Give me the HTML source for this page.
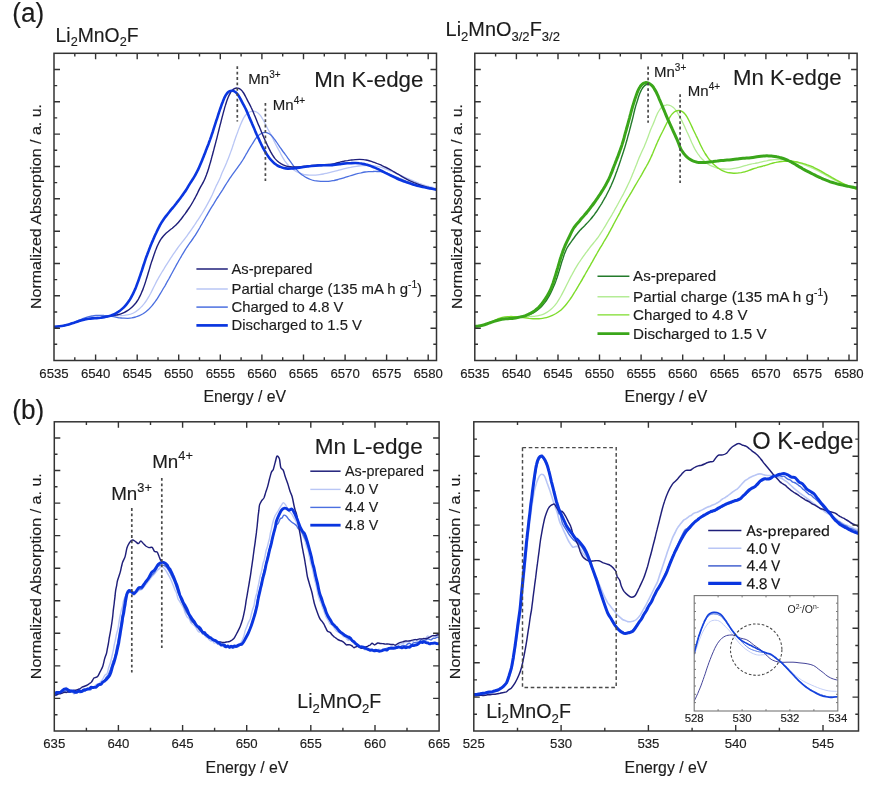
<!DOCTYPE html>
<html lang="en"><head><meta charset="utf-8"><title>XAS figure</title>
<style>
html,body{margin:0;padding:0;background:#fff;}
body{width:893px;height:787px;overflow:hidden;}
svg{display:block;font-family:"Liberation Sans", sans-serif;}
text{stroke-linejoin:round;}
</style></head>
<body>
<svg width="893" height="787" viewBox="0 0 893 787">
<rect width="893" height="787" fill="#fff"/>
<defs><clipPath id="cA"><rect x="54" y="53.3" width="382.5" height="307.2"/></clipPath><clipPath id="cB"><rect x="474.8" y="53.3" width="382.3" height="307.2"/></clipPath><clipPath id="cC"><rect x="54.3" y="421.8" width="384.8" height="309.2"/></clipPath><clipPath id="cD"><rect x="473.8" y="421.8" width="384.7" height="309.2"/></clipPath><clipPath id="cI"><rect x="694.2" y="595.6" width="143.6" height="115.4"/></clipPath></defs>
<g clip-path="url(#cA)">
<path d="M53.8 326.8C54.4 326.7 56.4 326.6 57.8 326.5C59.1 326.4 60.4 326.2 61.7 326C63 325.8 64.3 325.5 65.6 325.2C66.9 324.9 68.2 324.5 69.5 324.2C70.8 323.8 72 323.4 73.3 323C74.6 322.6 75.8 322.1 77.1 321.7C78.4 321.3 79.6 320.8 80.9 320.5C82.2 320.1 83.5 319.7 84.8 319.4C86.1 319.1 87.4 318.9 88.7 318.6C90 318.4 91.3 318.2 92.6 318C94 317.8 95.3 317.7 96.6 317.5C97.9 317.4 99.3 317.2 100.6 317.1C101.9 317 103.2 316.8 104.6 316.7C105.9 316.6 107.2 316.5 108.6 316.3C109.9 316.2 111.2 316.2 112.5 316.1C113.9 316 115.2 315.9 116.5 315.8C117.9 315.7 119.2 315.7 120.5 315.6C121.9 315.5 123.2 315.4 124.5 315.3C125.9 315.1 127.2 315 128.5 314.7C129.8 314.4 131.1 314 132.3 313.5C133.5 313 134.6 312.3 135.8 311.6C136.9 310.9 137.9 310.1 138.9 309.2C140 308.3 140.9 307.4 141.8 306.4C142.8 305.5 143.6 304.4 144.4 303.4C145.2 302.3 146 301.2 146.7 300.1C147.4 299 148.1 297.8 148.8 296.7C149.4 295.5 150.1 294.3 150.7 293.2C151.3 292 151.9 290.8 152.5 289.6C153.1 288.4 153.7 287.2 154.3 286C154.9 284.8 155.5 283.6 156.1 282.4C156.7 281.2 157.3 280.1 158 278.9C158.6 277.8 159.3 276.6 160 275.4C160.6 274.3 161.3 273.1 162 272C162.7 270.9 163.4 269.7 164.1 268.6C164.8 267.4 165.5 266.3 166.2 265.2C166.9 264 167.6 262.9 168.3 261.8C169.1 260.7 169.8 259.5 170.5 258.4C171.3 257.3 172 256.2 172.7 255.1C173.5 254 174.2 252.9 175 251.8C175.8 250.7 176.5 249.6 177.3 248.5C178.1 247.4 178.8 246.4 179.6 245.3C180.5 244.2 181.3 243.2 182.1 242.1C182.9 241.1 183.8 240 184.6 239C185.4 237.9 186.2 236.9 187 235.8C187.8 234.7 188.5 233.6 189.3 232.5C190.1 231.5 190.9 230.4 191.6 229.3C192.4 228.2 193.1 227.1 193.9 226C194.6 224.9 195.4 223.8 196.1 222.6C196.8 221.5 197.6 220.4 198.3 219.3C199 218.2 199.8 217.1 200.5 215.9C201.2 214.8 201.9 213.7 202.6 212.5C203.3 211.4 204 210.3 204.6 209.1C205.3 208 206 206.8 206.6 205.6C207.3 204.5 207.9 203.3 208.5 202.1C209.2 201 209.8 199.8 210.4 198.6C211 197.4 211.6 196.2 212.2 195C212.7 193.8 213.3 192.6 213.8 191.3C214.3 190.1 214.8 188.9 215.4 187.7C216 186.5 216.5 185.2 217.1 184.1C217.7 182.9 218.4 181.7 218.9 180.5C219.5 179.3 220 178.1 220.5 176.9C221 175.6 221.5 174.4 222 173.1C222.5 171.9 223.1 170.7 223.6 169.5C224.2 168.3 224.8 167.1 225.3 165.8C225.8 164.6 226.3 163.4 226.8 162.2C227.3 160.9 227.8 159.7 228.3 158.4C228.8 157.2 229.3 155.9 229.7 154.7C230.2 153.5 230.7 152.2 231.1 150.9C231.6 149.7 232 148.4 232.4 147.2C232.8 145.9 233.2 144.6 233.7 143.4C234.1 142.1 234.5 140.8 235 139.6C235.4 138.3 235.8 137.1 236.3 135.8C236.8 134.6 237.2 133.3 237.7 132C238.1 130.8 238.6 129.6 239.1 128.3C239.6 127.1 240.1 125.8 240.6 124.6C241.1 123.4 241.6 122.1 242.2 120.9C242.8 119.7 243.3 118.5 244 117.4C244.7 116.3 245.5 115.1 246.4 114.2C247.4 113.3 248.5 112.5 249.6 112C250.8 111.5 252.1 111.2 253.4 111.2C254.6 111.3 255.9 111.6 257 112.3C258.1 112.9 259 113.9 259.9 114.9C260.8 115.9 261.5 117 262.1 118.2C262.8 119.3 263.4 120.5 264.1 121.7C264.7 122.9 265.3 124.1 265.9 125.3C266.5 126.4 267.1 127.6 267.7 128.8C268.4 130 269 131.1 269.7 132.3C270.3 133.5 270.9 134.7 271.5 135.9C272.1 137 272.7 138.2 273.3 139.4C273.9 140.6 274.4 141.8 275 143C275.6 144.2 276.2 145.4 276.9 146.6C277.5 147.8 278.2 148.9 278.8 150.1C279.5 151.2 280 152.4 280.6 153.6C281.3 154.8 281.8 156 282.5 157.2C283.2 158.3 283.9 159.5 284.6 160.6C285.4 161.7 286.2 162.7 287 163.8C287.9 164.8 288.8 165.8 289.7 166.7C290.7 167.6 291.7 168.5 292.8 169.3C293.8 170.1 295 170.8 296.1 171.5C297.3 172.1 298.5 172.7 299.8 173.1C301 173.6 302.3 174 303.6 174.4C304.9 174.7 306.2 174.9 307.5 175C308.8 175.1 310.2 175.2 311.5 175.2C312.8 175.2 314.2 175.2 315.5 175.1C316.8 175 318.1 174.9 319.5 174.7C320.8 174.5 322.1 174.3 323.4 174C324.7 173.8 326 173.4 327.3 173.1C328.6 172.8 329.9 172.5 331.2 172.2C332.5 171.9 333.8 171.5 335.1 171.2C336.4 170.9 337.7 170.6 338.9 170.2C340.2 169.9 341.5 169.6 342.8 169.2C344.1 168.9 345.4 168.5 346.7 168.2C348 167.9 349.3 167.6 350.6 167.4C351.9 167.1 353.2 166.8 354.5 166.6C355.8 166.4 357.2 166.2 358.5 166C359.8 165.9 361.1 165.8 362.5 165.7C363.8 165.6 365.1 165.5 366.5 165.5C367.8 165.5 369.1 165.5 370.5 165.5C371.8 165.6 373.1 165.7 374.4 165.9C375.8 166.1 377.1 166.4 378.4 166.7C379.7 167 380.9 167.3 382.2 167.7C383.5 168.1 384.7 168.6 386 169.1C387.2 169.6 388.5 170.1 389.7 170.6C390.9 171.1 392.1 171.7 393.4 172.2C394.6 172.7 395.8 173.3 397 173.8C398.3 174.3 399.5 174.9 400.7 175.4C401.9 176 403.1 176.5 404.4 177C405.6 177.6 406.8 178.1 408 178.6C409.2 179.2 410.5 179.7 411.7 180.2C412.9 180.7 414.1 181.3 415.4 181.8C416.6 182.3 417.8 182.8 419.1 183.3C420.3 183.7 421.6 184.2 422.8 184.6C424.1 185 425.4 185.4 426.6 185.8C427.9 186.2 429.2 186.6 430.5 187C431.7 187.3 433.3 187.7 434.2 188C435.1 188.2 435.7 188.3 436 188.4" stroke="#b9c6f5" stroke-width="1.3" fill="none" stroke-linejoin="round"/>
<path d="M53.8 326.8C54.4 326.7 56.4 326.6 57.8 326.5C59.1 326.4 60.4 326.2 61.7 326C63 325.8 64.3 325.5 65.6 325.1C66.9 324.8 68.2 324.4 69.4 324C70.7 323.5 72 323.1 73.2 322.6C74.5 322.1 75.7 321.6 76.9 321.1C78.2 320.6 79.4 320.1 80.6 319.6C81.9 319.1 83.1 318.5 84.3 318.1C85.6 317.7 86.9 317.2 88.1 316.9C89.4 316.6 90.7 316.3 92 316C93.4 315.8 94.7 315.7 96 315.5C97.3 315.4 98.7 315.3 100 315.3C101.3 315.3 102.7 315.4 104 315.5C105.3 315.5 106.7 315.7 108 315.8C109.3 316 110.6 316.2 111.9 316.4C113.3 316.6 114.6 316.9 115.9 317.2C117.2 317.4 118.5 317.7 119.8 317.9C121.1 318 122.4 318.2 123.8 318.2C125.1 318.3 126.4 318.3 127.8 318.3C129.1 318.2 130.4 318.1 131.7 317.9C133.1 317.6 134.4 317.3 135.6 317C136.9 316.6 138.2 316.1 139.4 315.6C140.6 315.1 141.8 314.5 143 313.8C144.1 313.1 145.2 312.3 146.2 311.5C147.2 310.7 148.2 309.7 149.2 308.8C150.1 307.9 151 306.9 151.9 305.9C152.8 304.9 153.6 303.8 154.4 302.7C155.2 301.7 155.9 300.6 156.7 299.5C157.4 298.4 158.1 297.2 158.8 296.1C159.5 295 160.2 293.8 160.9 292.7C161.6 291.5 162.3 290.4 162.9 289.2C163.6 288.1 164.3 286.9 165 285.8C165.6 284.6 166.3 283.4 166.9 282.3C167.6 281.1 168.2 279.9 168.9 278.8C169.5 277.6 170.2 276.4 170.8 275.3C171.5 274.1 172.1 272.9 172.7 271.8C173.4 270.6 174 269.4 174.7 268.2C175.3 267.1 175.9 265.9 176.6 264.7C177.2 263.6 177.9 262.4 178.5 261.2C179.2 260.1 179.9 258.9 180.5 257.8C181.2 256.6 181.9 255.5 182.5 254.3C183.2 253.2 183.9 252 184.6 250.9C185.3 249.8 186 248.6 186.7 247.5C187.5 246.4 188.2 245.3 189 244.2C189.7 243.1 190.5 242 191.3 241C192.1 239.9 192.9 238.8 193.6 237.7C194.3 236.6 195.1 235.5 195.8 234.3C196.5 233.2 197.2 232.1 197.9 230.9C198.5 229.8 199.2 228.6 199.9 227.5C200.5 226.3 201.2 225.1 201.9 224C202.5 222.8 203.2 221.7 203.8 220.5C204.5 219.4 205.2 218.2 205.8 217C206.5 215.9 207.2 214.7 207.8 213.6C208.5 212.4 209.2 211.3 209.8 210.1C210.5 209 211.2 207.8 211.9 206.7C212.6 205.5 213.3 204.4 214 203.3C214.7 202.1 215.4 201 216.1 199.9C216.8 198.8 217.5 197.6 218.3 196.5C219 195.4 219.7 194.3 220.4 193.2C221.1 192 221.9 190.9 222.6 189.8C223.3 188.6 224 187.5 224.7 186.4C225.4 185.3 226.1 184.1 226.8 183C227.5 181.9 228.3 180.7 229 179.6C229.7 178.5 230.5 177.4 231.2 176.3C232 175.2 232.8 174.1 233.5 173.1C234.3 172 235.1 170.9 235.9 169.8C236.7 168.7 237.5 167.7 238.2 166.6C239 165.5 239.8 164.4 240.6 163.3C241.3 162.2 242.1 161.1 242.8 160C243.5 158.9 244.2 157.7 244.8 156.6C245.5 155.4 246.1 154.2 246.8 153.1C247.5 151.9 248.1 150.8 248.8 149.6C249.5 148.5 250.2 147.3 250.9 146.2C251.6 145.1 252.3 143.9 253 142.8C253.7 141.7 254.4 140.5 255.1 139.4C255.9 138.3 256.7 137.2 257.6 136.3C258.5 135.4 259.5 134.4 260.7 133.8C261.8 133.2 263.1 132.6 264.3 132.5C265.5 132.4 266.9 132.6 268 133.1C269.2 133.5 270.2 134.5 271.2 135.3C272.1 136.2 273 137.3 273.8 138.4C274.6 139.4 275.4 140.5 276.2 141.6C277 142.7 277.7 143.8 278.4 144.9C279.2 146 279.9 147.1 280.7 148.2C281.4 149.3 282.2 150.4 283 151.5C283.8 152.5 284.6 153.6 285.4 154.7C286.2 155.7 287 156.8 287.7 157.9C288.5 159 289.3 160.1 290.1 161.2C290.8 162.3 291.6 163.4 292.4 164.4C293.2 165.5 294 166.6 294.8 167.6C295.7 168.6 296.5 169.6 297.5 170.6C298.4 171.6 299.3 172.5 300.3 173.4C301.3 174.3 302.4 175.1 303.5 175.8C304.6 176.6 305.7 177.3 306.9 177.9C308.1 178.5 309.3 179.1 310.6 179.5C311.8 179.9 313.1 180.3 314.4 180.6C315.7 180.8 317 181 318.3 181.2C319.7 181.3 321 181.4 322.3 181.4C323.7 181.5 325 181.5 326.3 181.4C327.7 181.4 329 181.3 330.3 181.1C331.6 181 332.9 180.7 334.2 180.5C335.5 180.2 336.8 179.8 338.1 179.5C339.4 179.1 340.7 178.8 342 178.4C343.3 178 344.5 177.6 345.8 177.2C347.1 176.8 348.3 176.4 349.6 176C350.9 175.6 352.2 175.2 353.4 174.8C354.7 174.4 356 174 357.3 173.7C358.6 173.3 359.9 173 361.2 172.8C362.5 172.5 363.8 172.2 365.1 172C366.4 171.8 367.8 171.7 369.1 171.6C370.4 171.5 371.8 171.5 373.1 171.5C374.4 171.4 375.8 171.4 377.1 171.5C378.4 171.5 379.7 171.5 381.1 171.7C382.4 171.8 383.7 172.1 385 172.5C386.2 172.8 387.5 173.3 388.8 173.8C390 174.2 391.2 174.7 392.5 175.3C393.7 175.8 394.9 176.3 396.1 176.9C397.4 177.4 398.6 178 399.8 178.5C401 179 402.2 179.6 403.5 180.1C404.7 180.6 405.9 181.1 407.2 181.6C408.4 182.1 409.6 182.6 410.9 183.1C412.1 183.5 413.4 184 414.7 184.4C415.9 184.8 417.2 185.2 418.5 185.6C419.7 186 421 186.4 422.3 186.7C423.6 187.1 424.9 187.4 426.2 187.7C427.5 188 428.8 188.3 430.1 188.5C431.4 188.8 433 189.1 434 189.3C435 189.5 435.7 189.6 436 189.6" stroke="#4b6fe0" stroke-width="1.3" fill="none" stroke-linejoin="round"/>
<path d="M53.8 326.8C54.4 326.7 56.4 326.6 57.8 326.5C59.1 326.4 60.4 326.2 61.7 326C63 325.8 64.3 325.5 65.6 325.2C66.9 324.9 68.2 324.5 69.5 324.2C70.8 323.8 72 323.4 73.3 323C74.6 322.6 75.8 322.1 77.1 321.7C78.4 321.3 79.6 320.8 80.9 320.4C82.2 320.1 83.5 319.7 84.8 319.4C86.1 319.2 87.4 319 88.7 318.8C90 318.6 91.4 318.5 92.7 318.4C94 318.3 95.4 318.2 96.7 318.1C98 317.9 99.3 317.8 100.7 317.7C102 317.5 103.3 317.3 104.6 317.1C105.9 316.8 107.2 316.6 108.5 316.3C109.9 316.1 111.2 315.8 112.5 315.6C113.8 315.4 115.1 315.2 116.4 315C117.7 314.7 119.1 314.5 120.3 314.1C121.6 313.7 122.8 313.2 124 312.6C125.2 312.1 126.4 311.4 127.5 310.7C128.6 310 129.7 309.2 130.7 308.3C131.7 307.4 132.7 306.5 133.6 305.5C134.5 304.6 135.4 303.5 136.2 302.5C136.9 301.4 137.7 300.3 138.4 299.1C139 298 139.6 296.8 140.2 295.6C140.8 294.4 141.3 293.2 141.8 291.9C142.4 290.7 142.9 289.5 143.3 288.2C143.8 287 144.3 285.7 144.7 284.4C145.1 283.2 145.5 281.9 145.9 280.6C146.3 279.4 146.7 278.1 147.1 276.8C147.5 275.5 147.9 274.3 148.2 273C148.6 271.7 149 270.4 149.4 269.1C149.8 267.9 150.1 266.6 150.5 265.3C150.9 264 151.3 262.8 151.7 261.5C152.2 260.2 152.6 259 153 257.7C153.5 256.4 153.9 255.1 154.3 253.9C154.8 252.6 155.2 251.3 155.7 250.1C156.2 248.8 156.7 247.6 157.2 246.3C157.7 245.1 158.3 243.9 158.9 242.7C159.5 241.6 160.1 240.4 160.8 239.3C161.6 238.2 162.4 237.2 163.2 236.2C164.1 235.2 165.1 234.2 166 233.3C167 232.4 168.1 231.6 169.1 230.8C170.2 229.9 171.2 229.1 172.3 228.3C173.3 227.4 174.3 226.5 175.3 225.6C176.2 224.7 177.2 223.8 178.1 222.8C179 221.8 179.8 220.8 180.6 219.7C181.4 218.7 182.2 217.6 183 216.5C183.8 215.4 184.6 214.4 185.4 213.3C186.2 212.2 187 211.1 187.7 210C188.5 208.9 189.3 207.8 190 206.7C190.7 205.6 191.4 204.5 192 203.3C192.7 202.2 193.4 201 194 199.8C194.6 198.6 195.3 197.5 195.9 196.3C196.5 195.1 197.1 193.9 197.7 192.7C198.3 191.5 198.8 190.3 199.4 189.1C200 187.9 200.7 186.7 201.3 185.6C202 184.4 202.7 183.3 203.3 182.2C204 181 204.5 179.8 205 178.6C205.6 177.3 206 176.1 206.5 174.8C206.9 173.6 207.4 172.3 207.8 171C208.2 169.8 208.6 168.5 209 167.2C209.4 165.9 209.7 164.7 210.1 163.4C210.5 162.1 210.8 160.8 211.2 159.5C211.5 158.2 211.9 157 212.2 155.7C212.6 154.4 212.9 153.1 213.3 151.8C213.6 150.5 214 149.2 214.3 147.9C214.6 146.6 215 145.4 215.3 144.1C215.7 142.8 216 141.5 216.3 140.2C216.7 138.9 217 137.6 217.3 136.3C217.6 135 218 133.7 218.3 132.4C218.6 131.1 218.9 129.9 219.2 128.6C219.6 127.3 219.9 126 220.2 124.7C220.6 123.4 220.9 122.1 221.2 120.8C221.6 119.5 221.9 118.2 222.2 116.9C222.6 115.6 222.9 114.4 223.2 113.1C223.6 111.8 223.9 110.5 224.3 109.2C224.6 107.9 225 106.6 225.4 105.4C225.8 104.1 226.2 102.8 226.6 101.5C227 100.3 227.5 99 228 97.8C228.5 96.6 229 95.3 229.7 94.2C230.3 93 230.9 91.7 231.8 90.8C232.6 89.8 233.6 88.9 234.7 88.5C235.8 88 237.2 87.9 238.4 88.3C239.5 88.6 240.6 89.5 241.5 90.3C242.4 91.2 243.1 92.4 243.9 93.5C244.6 94.6 245.2 95.8 245.8 97C246.4 98.2 247 99.4 247.6 100.6C248.2 101.8 248.9 102.9 249.5 104.1C250.1 105.3 250.8 106.5 251.3 107.7C251.9 108.9 252.4 110.1 252.9 111.3C253.4 112.6 253.9 113.8 254.4 115C255 116.3 255.5 117.5 256 118.7C256.5 120 257 121.2 257.5 122.4C258 123.7 258.5 124.9 259.1 126.1C259.6 127.3 260.1 128.6 260.6 129.8C261.1 131 261.6 132.3 262.1 133.5C262.6 134.7 263.2 136 263.7 137.2C264.2 138.4 264.8 139.6 265.3 140.8C265.9 142 266.4 143.3 267 144.5C267.6 145.7 268.2 146.9 268.8 148.1C269.4 149.3 270 150.5 270.6 151.6C271.3 152.8 271.9 154.1 272.6 155.2C273.3 156.3 274 157.4 274.8 158.4C275.7 159.4 276.6 160.4 277.6 161.2C278.6 162.1 279.7 162.9 280.9 163.6C282 164.2 283.2 164.9 284.4 165.3C285.7 165.8 287 166.2 288.3 166.5C289.6 166.7 290.9 166.9 292.2 167C293.5 167 294.9 167 296.2 167C297.5 166.9 298.9 166.8 300.2 166.7C301.5 166.6 302.9 166.5 304.2 166.3C305.5 166.2 306.8 166.1 308.2 165.9C309.5 165.8 310.8 165.7 312.1 165.5C313.5 165.4 314.8 165.3 316.1 165.2C317.5 165.1 318.8 164.9 320.1 164.9C321.5 164.8 322.8 164.7 324.1 164.6C325.4 164.6 326.8 164.6 328.1 164.5C329.4 164.5 330.8 164.4 332.1 164.2C333.4 164 334.6 163.6 335.9 163.2C337.2 162.9 338.5 162.5 339.8 162.2C341.1 161.8 342.4 161.5 343.7 161.3C345 161 346.3 160.8 347.7 160.6C349 160.3 350.3 160.2 351.6 160C352.9 159.8 354.3 159.7 355.6 159.6C356.9 159.5 358.3 159.4 359.6 159.4C360.9 159.4 362.3 159.5 363.6 159.6C364.9 159.7 366.2 160 367.5 160.2C368.8 160.5 370.1 160.9 371.4 161.3C372.6 161.7 373.9 162.2 375.1 162.7C376.4 163.2 377.6 163.6 378.8 164.2C380.1 164.7 381.3 165.2 382.5 165.8C383.7 166.3 384.9 166.9 386.1 167.5C387.3 168.1 388.5 168.7 389.7 169.3C390.8 170 392 170.6 393.2 171.3C394.3 171.9 395.5 172.6 396.6 173.3C397.8 174 398.9 174.7 400.1 175.3C401.2 176 402.3 176.7 403.5 177.4C404.7 178 405.8 178.7 407 179.3C408.2 179.9 409.4 180.5 410.6 181.1C411.8 181.6 413 182.2 414.2 182.7C415.5 183.2 416.7 183.7 418 184.2C419.2 184.7 420.5 185.1 421.7 185.5C423 185.9 424.3 186.3 425.6 186.7C426.8 187.1 428.1 187.4 429.4 187.7C430.7 188.1 432.1 188.4 433.2 188.7C434.3 188.9 435.5 189.2 436 189.3" stroke="#1f1f7a" stroke-width="1.4" fill="none" stroke-linejoin="round"/>
<path d="M53.8 326.8C54.4 326.7 56.4 326.6 57.8 326.5C59.1 326.4 60.4 326.2 61.7 326C63 325.8 64.3 325.5 65.6 325.2C66.9 324.9 68.2 324.5 69.5 324.2C70.8 323.8 72 323.4 73.3 323C74.6 322.6 75.8 322.1 77.1 321.7C78.4 321.3 79.6 320.8 80.9 320.4C82.2 320.1 83.5 319.7 84.8 319.4C86.1 319.2 87.4 319 88.7 318.8C90 318.6 91.4 318.5 92.7 318.4C94 318.3 95.4 318.2 96.7 318.1C98 317.9 99.3 317.8 100.7 317.7C102 317.5 103.3 317.3 104.6 317.1C105.9 316.8 107.2 316.6 108.5 316.2C109.8 315.9 111.1 315.5 112.3 315C113.6 314.5 114.8 314 115.9 313.3C117.1 312.7 118.2 311.9 119.3 311.2C120.4 310.4 121.4 309.5 122.4 308.6C123.4 307.7 124.3 306.8 125.2 305.8C126.1 304.8 126.9 303.8 127.7 302.7C128.5 301.6 129.3 300.5 130 299.4C130.7 298.2 131.3 297.1 131.9 295.9C132.6 294.7 133.2 293.5 133.7 292.3C134.3 291.1 134.8 289.9 135.4 288.7C135.9 287.4 136.4 286.2 136.8 284.9C137.3 283.7 137.8 282.4 138.2 281.2C138.7 279.9 139.1 278.7 139.5 277.4C140 276.1 140.4 274.9 140.8 273.6C141.2 272.4 141.7 271.1 142.1 269.8C142.5 268.6 142.9 267.3 143.3 266C143.7 264.8 144.2 263.5 144.6 262.2C145 261 145.4 259.7 145.8 258.4C146.3 257.2 146.7 255.9 147.2 254.7C147.6 253.4 148.1 252.1 148.6 250.9C149 249.7 149.5 248.4 150 247.2C150.5 245.9 151 244.7 151.5 243.5C152 242.2 152.5 241 153.1 239.8C153.6 238.6 154.2 237.3 154.7 236.1C155.3 234.9 155.8 233.7 156.4 232.5C156.9 231.3 157.5 230.1 158.1 228.9C158.7 227.7 159.3 226.5 159.9 225.3C160.6 224.2 161.2 223 161.9 221.9C162.7 220.8 163.4 219.7 164.2 218.6C165 217.5 165.8 216.4 166.6 215.4C167.4 214.3 168.2 213.3 169.1 212.2C169.9 211.2 170.8 210.2 171.6 209.1C172.5 208.1 173.3 207.1 174.2 206.1C175 205 175.8 204 176.6 202.9C177.5 201.9 178.3 200.8 179.1 199.7C179.9 198.7 180.7 197.6 181.5 196.5C182.3 195.5 183.1 194.4 183.8 193.3C184.6 192.2 185.4 191.1 186.1 190C186.8 188.9 187.5 187.7 188.1 186.6C188.8 185.4 189.5 184.3 190.2 183.1C190.9 182 191.7 180.9 192.4 179.8C193.1 178.7 193.8 177.6 194.5 176.4C195.2 175.3 195.8 174.1 196.4 172.9C197.1 171.7 197.6 170.5 198.2 169.3C198.8 168.1 199.3 166.9 199.8 165.7C200.4 164.4 200.9 163.2 201.4 162C201.9 160.8 202.4 159.5 202.9 158.3C203.4 157.1 203.9 155.8 204.4 154.6C204.9 153.3 205.4 152.1 205.8 150.8C206.3 149.6 206.8 148.3 207.3 147.1C207.7 145.9 208.2 144.6 208.7 143.4C209.2 142.1 209.6 140.9 210.1 139.6C210.5 138.4 211 137.1 211.4 135.8C211.8 134.6 212.2 133.3 212.7 132C213.1 130.8 213.5 129.5 213.9 128.2C214.3 127 214.7 125.7 215.1 124.4C215.5 123.2 215.9 121.9 216.3 120.6C216.8 119.4 217.2 118.1 217.6 116.8C218 115.5 218.4 114.3 218.8 113C219.2 111.7 219.7 110.5 220.1 109.2C220.5 108 221 106.7 221.4 105.4C221.9 104.2 222.3 102.9 222.8 101.7C223.3 100.4 223.8 99.2 224.3 98C224.9 96.8 225.5 95.5 226.2 94.5C226.9 93.4 227.8 92.2 228.8 91.6C229.8 91 231.1 90.6 232.3 90.7C233.4 90.8 234.7 91.5 235.7 92.2C236.7 93 237.5 94.1 238.3 95.2C239 96.3 239.6 97.5 240.3 98.6C240.9 99.8 241.5 101 242.1 102.2C242.7 103.4 243.4 104.6 244 105.7C244.6 106.9 245.3 108.1 245.9 109.3C246.5 110.5 247 111.7 247.5 112.9C248 114.1 248.5 115.4 249 116.6C249.6 117.8 250.1 119.1 250.6 120.3C251.1 121.5 251.7 122.7 252.2 124C252.7 125.2 253.2 126.4 253.8 127.6C254.3 128.9 254.8 130.1 255.3 131.3C255.9 132.5 256.4 133.8 256.9 135C257.5 136.2 258 137.4 258.6 138.6C259.1 139.8 259.7 141 260.3 142.3C260.8 143.5 261.4 144.7 262 145.9C262.6 147 263.2 148.2 263.9 149.4C264.5 150.6 265.2 151.7 265.9 152.8C266.6 154 267.3 155.1 268.1 156.2C268.9 157.3 269.7 158.4 270.5 159.4C271.4 160.4 272.3 161.4 273.3 162.3C274.2 163.2 275.3 164 276.4 164.8C277.5 165.5 278.7 166.2 279.9 166.7C281.1 167.3 282.3 167.7 283.6 168C284.9 168.3 286.2 168.5 287.6 168.6C288.9 168.7 290.2 168.6 291.5 168.5C292.9 168.4 294.2 168.3 295.5 168.1C296.9 168 298.2 167.8 299.5 167.6C300.8 167.4 302.1 167.2 303.5 167C304.8 166.8 306.1 166.6 307.4 166.4C308.7 166.3 310.1 166.1 311.4 166C312.7 165.9 314 165.8 315.4 165.7C316.7 165.6 318 165.5 319.4 165.4C320.7 165.4 322 165.3 323.4 165.3C324.7 165.2 326 165.2 327.4 165.2C328.7 165.2 330 165.2 331.4 165.1C332.7 165 334 164.8 335.3 164.7C336.7 164.5 338 164.3 339.3 164.1C340.6 163.9 341.9 163.8 343.3 163.6C344.6 163.5 345.9 163.4 347.3 163.3C348.6 163.2 349.9 163.1 351.3 163.1C352.6 163 353.9 163 355.3 163C356.6 163 357.9 163.1 359.2 163.3C360.6 163.4 361.9 163.6 363.2 163.9C364.5 164.1 365.8 164.5 367.1 164.8C368.3 165.2 369.6 165.7 370.9 166.1C372.1 166.6 373.3 167.1 374.6 167.6C375.8 168.1 377 168.7 378.2 169.2C379.4 169.8 380.6 170.4 381.8 171C383 171.6 384.2 172.2 385.4 172.8C386.6 173.4 387.8 174 389 174.6C390.1 175.2 391.3 175.8 392.5 176.4C393.7 177 394.9 177.6 396.1 178.1C397.3 178.7 398.6 179.2 399.8 179.8C401 180.3 402.3 180.8 403.5 181.2C404.8 181.7 406 182.1 407.3 182.6C408.5 183 409.8 183.4 411.1 183.8C412.3 184.3 413.6 184.7 414.9 185C416.2 185.4 417.5 185.8 418.7 186.1C420 186.4 421.3 186.7 422.6 187C423.9 187.2 425.3 187.5 426.6 187.8C427.9 188 429.2 188.3 430.5 188.5C431.8 188.8 433.3 189.1 434.3 189.3C435.2 189.5 435.7 189.6 436 189.6" stroke="#0a36e0" stroke-width="2.6" fill="none" stroke-linejoin="round"/>
</g>
<path d="M237.3 66.3V121.5M265.4 103V181" stroke="#4a4a4a" stroke-width="1.7" stroke-dasharray="2.8 2.6" fill="none"/>
<path d="M95.6 360.5v-6M95.6 53.3v6M137.2 360.5v-6M137.2 53.3v6M178.7 360.5v-6M178.7 53.3v6M220.3 360.5v-6M220.3 53.3v6M261.9 360.5v-6M261.9 53.3v6M303.5 360.5v-6M303.5 53.3v6M345.1 360.5v-6M345.1 53.3v6M386.6 360.5v-6M386.6 53.3v6M428.2 360.5v-6M428.2 53.3v6M74.8 360.5v-3.2M74.8 53.3v3.2M116.4 360.5v-3.2M116.4 53.3v3.2M158 360.5v-3.2M158 53.3v3.2M199.5 360.5v-3.2M199.5 53.3v3.2M241.1 360.5v-3.2M241.1 53.3v3.2M282.7 360.5v-3.2M282.7 53.3v3.2M324.3 360.5v-3.2M324.3 53.3v3.2M365.9 360.5v-3.2M365.9 53.3v3.2M407.4 360.5v-3.2M407.4 53.3v3.2M54 69.5h6M436.5 69.5h-6M54 101.8h6M436.5 101.8h-6M54 134.1h6M436.5 134.1h-6M54 166.5h6M436.5 166.5h-6M54 198.8h6M436.5 198.8h-6M54 231.2h6M436.5 231.2h-6M54 263.5h6M436.5 263.5h-6M54 295.8h6M436.5 295.8h-6M54 328.2h6M436.5 328.2h-6M54 85.6h3.2M436.5 85.6h-3.2M54 117.9h3.2M436.5 117.9h-3.2M54 150.3h3.2M436.5 150.3h-3.2M54 182.6h3.2M436.5 182.6h-3.2M54 215h3.2M436.5 215h-3.2M54 247.3h3.2M436.5 247.3h-3.2M54 279.6h3.2M436.5 279.6h-3.2M54 312h3.2M436.5 312h-3.2M54 344.3h3.2M436.5 344.3h-3.2" stroke="#333333" stroke-width="1.4" fill="none"/>
<rect x="54" y="53.3" width="382.5" height="307.2" fill="none" stroke="#333333" stroke-width="1.5"/>
<text x="54" y="377.7" font-size="13.2" text-anchor="middle" fill="#1c1c1c" stroke="#1c1c1c" stroke-width="0.15">6535</text>
<text x="95.6" y="377.7" font-size="13.2" text-anchor="middle" fill="#1c1c1c" stroke="#1c1c1c" stroke-width="0.15">6540</text>
<text x="137.2" y="377.7" font-size="13.2" text-anchor="middle" fill="#1c1c1c" stroke="#1c1c1c" stroke-width="0.15">6545</text>
<text x="178.7" y="377.7" font-size="13.2" text-anchor="middle" fill="#1c1c1c" stroke="#1c1c1c" stroke-width="0.15">6550</text>
<text x="220.3" y="377.7" font-size="13.2" text-anchor="middle" fill="#1c1c1c" stroke="#1c1c1c" stroke-width="0.15">6555</text>
<text x="261.9" y="377.7" font-size="13.2" text-anchor="middle" fill="#1c1c1c" stroke="#1c1c1c" stroke-width="0.15">6560</text>
<text x="303.5" y="377.7" font-size="13.2" text-anchor="middle" fill="#1c1c1c" stroke="#1c1c1c" stroke-width="0.15">6565</text>
<text x="345.1" y="377.7" font-size="13.2" text-anchor="middle" fill="#1c1c1c" stroke="#1c1c1c" stroke-width="0.15">6570</text>
<text x="386.6" y="377.7" font-size="13.2" text-anchor="middle" fill="#1c1c1c" stroke="#1c1c1c" stroke-width="0.15">6575</text>
<text x="428.2" y="377.7" font-size="13.2" text-anchor="middle" fill="#1c1c1c" stroke="#1c1c1c" stroke-width="0.15">6580</text>
<text x="244.8" y="402.3" font-size="15.8" text-anchor="middle" textLength="82.8" lengthAdjust="spacingAndGlyphs" fill="#1c1c1c" stroke="#1c1c1c" stroke-width="0.15">Energy / eV</text>
<text transform="translate(40.7 206.5) rotate(-90)" font-size="15.3" text-anchor="middle" textLength="205" lengthAdjust="spacingAndGlyphs" fill="#1c1c1c" stroke="#1c1c1c" stroke-width="0.15">Normalized Absorption / a. u.</text>
<text x="12.3" y="21.8" font-size="27" textLength="32" lengthAdjust="spacingAndGlyphs" fill="#1c1c1c" stroke="#1c1c1c" stroke-width="0.15">(a)</text>
<text x="55.6" y="41.5" font-size="20.2" textLength="83" lengthAdjust="spacingAndGlyphs" fill="#1c1c1c" stroke="#1c1c1c" stroke-width="0.15">Li<tspan font-size="13.3" dy="4.8">2</tspan><tspan dy="-4.8">MnO</tspan><tspan font-size="13.3" dy="4.8">2</tspan><tspan dy="-4.8">F</tspan></text>
<text x="248.3" y="83.7" font-size="15" fill="#1c1c1c" stroke="#1c1c1c" stroke-width="0.15">Mn<tspan font-size="10" dy="-6">3+</tspan></text>
<text x="272.8" y="110.1" font-size="15" fill="#1c1c1c" stroke="#1c1c1c" stroke-width="0.15">Mn<tspan font-size="10" dy="-6">4+</tspan></text>
<text x="314.3" y="86.5" font-size="22" textLength="109.1" lengthAdjust="spacingAndGlyphs" fill="#1c1c1c" stroke="#1c1c1c" stroke-width="0.15">Mn K-edge</text>
<path d="M196.4 269H227.8" stroke="#1f1f7a" stroke-width="1.5"/>
<text x="231.5" y="273.5" font-size="14.5" textLength="80.8" lengthAdjust="spacingAndGlyphs" fill="#1c1c1c" stroke="#1c1c1c" stroke-width="0.15">As-prepared</text>
<path d="M196.4 289H227.8" stroke="#b9c6f5" stroke-width="1.5"/>
<text x="231.5" y="294.1" font-size="14.5" textLength="190.6" lengthAdjust="spacingAndGlyphs" fill="#1c1c1c" stroke="#1c1c1c" stroke-width="0.15">Partial charge (135 mA h g<tspan font-size="10" dy="-6">-1</tspan><tspan dy="6">)</tspan></text>
<path d="M196.4 307.1H227.8" stroke="#4b6fe0" stroke-width="1.5"/>
<text x="231.5" y="312.1" font-size="14.5" textLength="112" lengthAdjust="spacingAndGlyphs" fill="#1c1c1c" stroke="#1c1c1c" stroke-width="0.15">Charged to 4.8 V</text>
<path d="M196.4 325.4H227.8" stroke="#0a36e0" stroke-width="2.7"/>
<text x="231.5" y="330" font-size="14.5" textLength="130.5" lengthAdjust="spacingAndGlyphs" fill="#1c1c1c" stroke="#1c1c1c" stroke-width="0.15">Discharged to 1.5 V</text>
<g clip-path="url(#cB)">
<path d="M474.8 326.5C475.4 326.4 477.4 326.2 478.7 326C480.1 325.8 481.4 325.5 482.6 325.2C483.9 324.9 485.2 324.5 486.5 324.1C487.7 323.6 489 323.2 490.2 322.7C491.5 322.2 492.7 321.7 494 321.3C495.2 320.8 496.5 320.4 497.8 320C499.1 319.7 500.4 319.3 501.7 319.1C503 318.8 504.3 318.6 505.6 318.4C506.9 318.2 508.2 318.1 509.6 318C510.9 317.9 512.2 317.8 513.6 317.7C514.9 317.6 516.2 317.5 517.6 317.3C518.9 317.2 520.2 317.1 521.5 317.1C522.9 317 524.2 316.9 525.5 316.8C526.9 316.7 528.2 316.6 529.5 316.5C530.9 316.5 532.2 316.4 533.5 316.3C534.9 316.1 536.2 316 537.5 315.8C538.8 315.6 540.1 315.3 541.4 314.9C542.6 314.5 543.9 313.9 545.1 313.3C546.2 312.8 547.4 312.1 548.5 311.3C549.6 310.6 550.6 309.7 551.6 308.8C552.6 307.9 553.5 306.9 554.4 305.9C555.2 304.9 556 303.8 556.8 302.8C557.6 301.7 558.3 300.6 559 299.4C559.7 298.3 560.4 297.1 561 296C561.7 294.8 562.3 293.6 562.9 292.4C563.5 291.2 564.1 290 564.7 288.9C565.3 287.7 565.9 286.5 566.5 285.3C567.1 284.1 567.7 282.9 568.3 281.7C568.9 280.5 569.5 279.3 570.1 278.1C570.7 276.9 571.3 275.8 572 274.6C572.6 273.4 573.2 272.2 573.9 271.1C574.5 269.9 575.2 268.7 575.9 267.6C576.6 266.5 577.3 265.3 578 264.2C578.7 263.1 579.4 262 580.2 260.9C580.9 259.8 581.7 258.7 582.4 257.6C583.2 256.5 584 255.4 584.8 254.3C585.6 253.2 586.4 252.2 587.2 251.1C588 250 588.8 249 589.6 247.9C590.4 246.8 591.2 245.8 592.1 244.8C592.9 243.7 593.8 242.7 594.6 241.7C595.4 240.6 596.3 239.6 597.1 238.5C597.9 237.5 598.6 236.4 599.4 235.3C600.1 234.2 600.8 233.1 601.6 231.9C602.3 230.8 603 229.7 603.7 228.5C604.4 227.4 605.1 226.2 605.8 225.1C606.5 224 607.1 222.8 607.8 221.7C608.5 220.5 609.2 219.4 609.9 218.2C610.5 217.1 611.2 215.9 611.9 214.8C612.6 213.6 613.2 212.5 613.9 211.3C614.5 210.2 615.2 209 615.8 207.8C616.5 206.7 617.1 205.5 617.8 204.3C618.4 203.2 619.1 202 619.7 200.8C620.3 199.7 621 198.5 621.6 197.3C622.2 196.1 622.8 194.9 623.5 193.8C624.1 192.6 624.7 191.4 625.3 190.2C625.9 189 626.5 187.8 627.1 186.6C627.7 185.4 628.2 184.2 628.8 183C629.4 181.8 629.9 180.6 630.4 179.4C631 178.1 631.5 176.9 632 175.7C632.5 174.5 633 173.2 633.5 172C634 170.7 634.5 169.5 635 168.3C635.5 167 636 165.8 636.5 164.6C637 163.3 637.4 162.1 637.9 160.8C638.4 159.6 638.9 158.3 639.4 157.1C640 155.9 640.5 154.7 641 153.5C641.6 152.2 642.2 151 642.7 149.8C643.3 148.6 643.9 147.4 644.4 146.2C644.9 145 645.4 143.7 645.9 142.5C646.4 141.3 646.9 140 647.3 138.8C647.8 137.5 648.3 136.3 648.7 135C649.2 133.7 649.6 132.5 650.1 131.2C650.6 130 651 128.7 651.6 127.5C652.1 126.3 652.7 125.1 653.2 123.9C653.8 122.7 654.2 121.4 654.7 120.2C655.2 119 655.6 117.7 656.1 116.5C656.7 115.2 657.2 114 657.8 112.8C658.5 111.7 659.1 110.5 659.9 109.4C660.7 108.4 661.5 107.3 662.6 106.5C663.6 105.8 664.8 105.2 666 105C667.3 104.7 668.6 104.9 669.8 105.3C671 105.6 672.1 106.5 673.1 107.3C674.1 108.1 675 109.2 675.8 110.2C676.6 111.3 677.3 112.4 678 113.6C678.7 114.7 679.3 115.9 679.9 117.1C680.6 118.2 681.2 119.4 681.8 120.6C682.4 121.8 682.9 123 683.5 124.2C684.1 125.4 684.6 126.6 685.2 127.9C685.7 129.1 686.3 130.3 686.8 131.5C687.4 132.7 687.9 133.9 688.5 135.1C689 136.4 689.6 137.6 690.1 138.8C690.7 140 691.2 141.3 691.7 142.5C692.3 143.7 692.8 144.9 693.4 146.1C694 147.3 694.6 148.5 695.2 149.7C695.9 150.8 696.6 151.9 697.3 153C698.1 154.2 698.9 155.2 699.7 156.3C700.5 157.3 701.4 158.3 702.3 159.3C703.3 160.3 704.2 161.2 705.2 162C706.3 162.9 707.3 163.7 708.5 164.4C709.6 165.1 710.8 165.7 712 166.2C713.2 166.8 714.5 167.2 715.7 167.6C717 168 718.3 168.3 719.6 168.6C720.9 168.8 722.3 168.9 723.6 169C724.9 169.1 726.3 169.2 727.6 169.1C728.9 169.1 730.3 169 731.6 168.8C732.9 168.7 734.2 168.4 735.5 168.2C736.8 167.9 738.1 167.6 739.4 167.3C740.7 167 742 166.6 743.3 166.2C744.6 165.9 745.8 165.4 747.1 165.1C748.4 164.7 749.7 164.4 751 164.1C752.3 163.8 753.6 163.6 754.9 163.4C756.2 163.1 757.5 162.9 758.8 162.6C760.1 162.3 761.4 161.9 762.7 161.6C764 161.3 765.3 161 766.6 160.8C767.9 160.5 769.2 160.2 770.6 160C771.9 159.9 773.2 159.7 774.5 159.6C775.9 159.5 777.2 159.5 778.5 159.5C779.9 159.5 781.2 159.5 782.5 159.6C783.9 159.7 785.2 159.9 786.5 160.1C787.8 160.3 789.1 160.6 790.4 160.9C791.7 161.1 793 161.4 794.3 161.7C795.6 162.1 796.9 162.4 798.2 162.8C799.5 163.1 800.8 163.5 802 163.9C803.3 164.4 804.5 164.8 805.8 165.3C807 165.8 808.3 166.3 809.5 166.8C810.7 167.3 811.9 167.9 813.1 168.4C814.3 169 815.5 169.6 816.7 170.2C817.9 170.8 819.1 171.5 820.2 172.1C821.4 172.7 822.6 173.4 823.7 174C824.9 174.7 826.1 175.4 827.2 176C828.4 176.7 829.5 177.3 830.7 177.9C831.9 178.6 833.1 179.2 834.3 179.8C835.5 180.4 836.7 181 837.9 181.6C839.1 182.1 840.3 182.7 841.5 183.3C842.7 183.8 843.9 184.4 845.1 184.9C846.3 185.5 847.6 186 848.8 186.5C850 187 851.3 187.5 852.5 188C853.7 188.4 855.4 189 856.1 189.3C856.9 189.6 856.8 189.6 857 189.6" stroke="#b4ec96" stroke-width="1.3" fill="none" stroke-linejoin="round"/>
<path d="M474.8 326.5C475.4 326.4 477.4 326.2 478.7 326C480.1 325.8 481.4 325.5 482.6 325.2C483.9 324.8 485.2 324.4 486.4 324C487.7 323.5 488.9 323 490.1 322.4C491.4 321.9 492.6 321.3 493.8 320.8C495 320.2 496.2 319.6 497.4 319.1C498.7 318.6 499.9 318.1 501.2 317.7C502.5 317.4 503.8 317.1 505.1 316.9C506.4 316.7 507.7 316.7 509.1 316.6C510.4 316.5 511.7 316.5 513.1 316.6C514.4 316.6 515.7 316.7 517 316.8C518.4 316.9 519.7 317.1 521 317.3C522.3 317.4 523.7 317.6 525 317.8C526.3 318 527.6 318.2 529 318.4C530.3 318.5 531.6 318.6 532.9 318.7C534.3 318.8 535.6 318.8 536.9 318.8C538.3 318.7 539.6 318.7 540.9 318.6C542.2 318.5 543.5 318.2 544.8 317.9C546.1 317.6 547.4 317.2 548.7 316.8C550 316.4 551.2 315.9 552.4 315.3C553.6 314.8 554.8 314.2 556 313.5C557.1 312.8 558.2 312.1 559.3 311.3C560.4 310.5 561.4 309.6 562.3 308.7C563.3 307.8 564.2 306.8 565.1 305.8C566 304.8 566.8 303.8 567.6 302.7C568.4 301.6 569.2 300.5 570 299.4C570.7 298.3 571.5 297.2 572.2 296.1C572.9 295 573.6 293.9 574.3 292.7C575 291.6 575.7 290.4 576.4 289.3C577.1 288.2 577.7 287 578.4 285.9C579.1 284.7 579.8 283.6 580.5 282.4C581.1 281.3 581.8 280.1 582.5 279C583.1 277.8 583.8 276.6 584.5 275.5C585.1 274.3 585.8 273.2 586.4 272C587.1 270.9 587.8 269.7 588.4 268.5C589.1 267.4 589.7 266.2 590.4 265.1C591 263.9 591.7 262.7 592.4 261.6C593 260.4 593.7 259.2 594.3 258.1C595 256.9 595.7 255.8 596.3 254.6C597 253.5 597.6 252.3 598.3 251.1C599 250 599.7 248.8 600.3 247.7C601 246.5 601.7 245.4 602.4 244.3C603.1 243.1 603.8 242 604.4 240.8C605.1 239.7 605.8 238.5 606.5 237.4C607.1 236.2 607.8 235.1 608.5 233.9C609.1 232.7 609.7 231.6 610.4 230.4C611 229.2 611.6 228.1 612.3 226.9C612.9 225.7 613.5 224.5 614.1 223.3C614.8 222.2 615.4 221 616 219.8C616.7 218.6 617.3 217.5 617.9 216.3C618.5 215.1 619.2 213.9 619.8 212.8C620.4 211.6 621 210.4 621.7 209.2C622.3 208.1 622.9 206.9 623.6 205.7C624.2 204.5 624.9 203.4 625.5 202.2C626.2 201.1 626.8 199.9 627.5 198.7C628.2 197.6 628.8 196.4 629.5 195.3C630.2 194.1 630.9 193 631.6 191.8C632.2 190.7 632.9 189.5 633.6 188.4C634.3 187.2 634.9 186.1 635.6 184.9C636.3 183.8 637 182.6 637.6 181.5C638.3 180.3 639 179.2 639.7 178C640.3 176.9 641 175.7 641.7 174.6C642.3 173.4 643 172.3 643.6 171.1C644.3 169.9 645 168.8 645.6 167.6C646.3 166.5 646.9 165.3 647.6 164.1C648.2 162.9 648.8 161.8 649.4 160.6C650 159.4 650.6 158.2 651.1 157C651.7 155.8 652.2 154.6 652.8 153.3C653.3 152.1 653.8 150.9 654.3 149.6C654.8 148.4 655.3 147.2 655.8 145.9C656.3 144.7 656.9 143.5 657.4 142.3C657.9 141 658.5 139.8 659.1 138.6C659.6 137.4 660.2 136.2 660.8 135C661.4 133.8 662 132.6 662.6 131.5C663.2 130.3 663.8 129.1 664.4 127.9C665 126.7 665.6 125.5 666.2 124.3C666.8 123.1 667.4 121.9 668 120.7C668.6 119.5 669.2 118.3 669.9 117.2C670.6 116.1 671.3 114.9 672.2 113.9C673.1 113 674.1 112 675.2 111.4C676.3 110.8 677.6 110.5 678.8 110.5C680 110.5 681.3 111 682.4 111.6C683.5 112.2 684.4 113.3 685.2 114.3C686.1 115.3 686.7 116.5 687.4 117.6C688.1 118.8 688.7 120 689.3 121.2C689.9 122.4 690.4 123.6 691 124.8C691.6 126 692.1 127.2 692.7 128.4C693.2 129.6 693.8 130.8 694.4 132C694.9 133.2 695.6 134.4 696.1 135.6C696.7 136.8 697.3 138 697.9 139.2C698.4 140.4 699 141.7 699.6 142.9C700.1 144.1 700.7 145.3 701.3 146.5C701.9 147.7 702.5 148.9 703.1 150C703.8 151.2 704.4 152.3 705.1 153.5C705.8 154.6 706.6 155.7 707.4 156.8C708.1 157.9 708.9 159 709.8 160C710.6 161 711.5 162 712.4 163C713.3 164 714.3 164.9 715.3 165.8C716.3 166.7 717.3 167.6 718.4 168.3C719.5 169.1 720.6 169.7 721.8 170.3C723 170.9 724.3 171.4 725.5 171.8C726.8 172.2 728.1 172.6 729.4 172.8C730.7 173 732 173.2 733.4 173.2C734.7 173.3 736 173.2 737.3 173.1C738.7 173 740 172.8 741.3 172.6C742.6 172.3 743.9 172 745.2 171.7C746.5 171.3 747.7 170.9 749 170.4C750.2 170 751.5 169.5 752.7 169C754 168.6 755.3 168.2 756.6 167.8C757.8 167.4 759.1 167.1 760.4 166.7C761.7 166.4 763 166.1 764.3 165.7C765.6 165.4 766.8 165 768.1 164.6C769.4 164.2 770.6 163.7 771.9 163.3C773.2 163 774.5 162.6 775.8 162.4C777.1 162.1 778.4 161.9 779.7 161.7C781 161.6 782.4 161.5 783.7 161.4C785 161.3 786.4 161.2 787.7 161.2C789 161.2 790.4 161.2 791.7 161.3C793 161.4 794.4 161.6 795.7 161.8C797 162 798.3 162.3 799.6 162.6C800.9 162.9 802.2 163.2 803.5 163.6C804.8 163.9 806 164.3 807.3 164.8C808.6 165.2 809.8 165.7 811 166.2C812.2 166.7 813.5 167.3 814.6 167.9C815.8 168.5 817 169.1 818.2 169.7C819.4 170.4 820.6 171 821.7 171.6C822.9 172.3 824.1 172.9 825.2 173.6C826.4 174.3 827.5 174.9 828.7 175.6C829.9 176.2 831 176.9 832.2 177.6C833.3 178.2 834.5 178.9 835.6 179.6C836.8 180.2 838 180.9 839.1 181.5C840.3 182.1 841.5 182.7 842.7 183.3C843.9 183.9 845.1 184.4 846.3 185C847.5 185.5 848.8 186.1 850 186.6C851.2 187.1 852.5 187.6 853.7 188.1C854.9 188.5 856.4 189.1 857 189.3" stroke="#7ddc2a" stroke-width="1.4" fill="none" stroke-linejoin="round"/>
<path d="M474.8 326.5C475.4 326.4 477.4 326.2 478.7 326C480.1 325.8 481.4 325.5 482.6 325.2C483.9 324.9 485.2 324.5 486.5 324C487.7 323.6 489 323.2 490.2 322.7C491.5 322.3 492.8 321.8 494 321.4C495.3 321 496.6 320.6 497.9 320.2C499.1 319.9 500.4 319.6 501.8 319.3C503.1 319.1 504.4 318.9 505.7 318.8C507 318.7 508.4 318.6 509.7 318.5C511 318.4 512.4 318.4 513.7 318.2C515 318.1 516.3 317.8 517.6 317.6C518.9 317.4 520.3 317.1 521.6 316.8C522.9 316.5 524.2 316.2 525.4 315.9C526.7 315.5 528 315.1 529.3 314.7C530.5 314.2 531.8 313.7 532.9 313.1C534.1 312.5 535.2 311.8 536.3 311C537.4 310.3 538.4 309.4 539.4 308.5C540.4 307.6 541.3 306.7 542.2 305.7C543.1 304.7 544 303.6 544.8 302.6C545.6 301.5 546.4 300.4 547.1 299.3C547.8 298.2 548.5 297 549.2 295.9C549.8 294.7 550.4 293.5 551 292.4C551.6 291.2 552.2 290 552.7 288.7C553.3 287.5 553.8 286.3 554.3 285.1C554.8 283.8 555.3 282.6 555.8 281.3C556.2 280.1 556.6 278.8 557.1 277.5C557.5 276.3 557.9 275 558.3 273.7C558.7 272.5 559.1 271.2 559.5 269.9C559.9 268.6 560.2 267.4 560.6 266.1C561 264.8 561.4 263.5 561.7 262.2C562.1 261 562.5 259.7 563 258.4C563.4 257.1 563.8 255.9 564.2 254.6C564.7 253.4 565.2 252.1 565.7 250.9C566.2 249.7 566.8 248.5 567.4 247.3C568.1 246.2 568.8 245.1 569.6 244C570.3 242.9 571.2 241.8 572 240.7C572.7 239.6 573.5 238.6 574.3 237.5C575.1 236.4 575.9 235.3 576.7 234.3C577.5 233.2 578.4 232.2 579.2 231.2C580.1 230.2 581.1 229.3 582 228.3C582.9 227.4 583.9 226.4 584.9 225.5C585.8 224.5 586.7 223.6 587.6 222.6C588.5 221.6 589.4 220.6 590.3 219.6C591.2 218.6 592 217.6 592.8 216.5C593.7 215.5 594.5 214.4 595.2 213.3C596 212.3 596.8 211.2 597.5 210.1C598.3 208.9 599 207.8 599.7 206.7C600.4 205.6 601.1 204.4 601.8 203.3C602.5 202.1 603.2 201 603.8 199.8C604.5 198.7 605.1 197.5 605.8 196.3C606.4 195.2 607 194 607.6 192.8C608.2 191.6 608.8 190.4 609.4 189.2C609.9 188 610.5 186.8 611.1 185.6C611.6 184.4 612.1 183.1 612.7 181.9C613.2 180.7 613.7 179.5 614.2 178.2C614.7 177 615.2 175.7 615.6 174.5C616.1 173.2 616.5 172 617 170.7C617.4 169.5 617.9 168.2 618.3 166.9C618.8 165.7 619.2 164.4 619.6 163.2C620.1 161.9 620.5 160.6 620.9 159.4C621.3 158.1 621.7 156.8 622.2 155.6C622.6 154.3 623 153 623.4 151.8C623.8 150.5 624.2 149.2 624.6 148C625 146.7 625.4 145.4 625.8 144.1C626.1 142.8 626.5 141.6 626.9 140.3C627.2 139 627.6 137.7 627.9 136.4C628.3 135.1 628.6 133.9 629 132.6C629.3 131.3 629.7 130 630 128.7C630.3 127.4 630.7 126.1 631 124.8C631.3 123.5 631.7 122.2 632 121C632.3 119.7 632.7 118.4 633 117.1C633.3 115.8 633.6 114.5 633.9 113.2C634.2 111.9 634.5 110.6 634.8 109.3C635.2 108 635.5 106.7 635.9 105.4C636.3 104.2 636.7 102.9 637.1 101.6C637.5 100.3 637.9 99.1 638.3 97.8C638.7 96.5 639.1 95.3 639.6 94C640.1 92.8 640.6 91.5 641.2 90.4C641.9 89.2 642.5 88 643.3 87C644.2 86 645.2 85 646.3 84.5C647.3 84.1 648.7 83.9 649.7 84.2C650.8 84.6 651.8 85.6 652.7 86.5C653.6 87.4 654.3 88.6 655 89.8C655.6 90.9 656.2 92.1 656.8 93.3C657.4 94.5 657.9 95.8 658.4 97C659 98.2 659.5 99.4 660 100.7C660.5 101.9 661 103.1 661.5 104.4C662.1 105.6 662.6 106.8 663.1 108.1C663.6 109.3 664.1 110.5 664.6 111.7C665.1 113 665.6 114.2 666.2 115.4C666.7 116.7 667.2 117.9 667.7 119.1C668.3 120.3 668.8 121.5 669.4 122.8C669.9 124 670.5 125.2 671.1 126.4C671.6 127.6 672.2 128.8 672.7 130C673.3 131.2 673.8 132.5 674.4 133.7C674.9 134.9 675.5 136.1 676 137.3C676.6 138.5 677.2 139.7 677.7 141C678.2 142.2 678.6 143.4 679.1 144.7C679.6 145.9 680 147.2 680.5 148.4C681.1 149.6 681.8 150.8 682.5 151.9C683.3 153 684.1 154 685 155C685.9 156 686.8 157 687.9 157.8C688.9 158.6 690 159.4 691.1 160.1C692.3 160.7 693.5 161.2 694.8 161.6C696.1 162 697.4 162.2 698.7 162.4C700 162.6 701.4 162.6 702.7 162.6C704 162.6 705.4 162.5 706.7 162.4C708 162.3 709.3 162.1 710.7 161.9C712 161.8 713.3 161.6 714.6 161.4C715.9 161.2 717.3 161.1 718.6 160.9C719.9 160.7 721.2 160.6 722.6 160.5C723.9 160.3 725.2 160.2 726.5 160.1C727.9 160 729.2 159.9 730.5 159.8C731.9 159.6 733.2 159.5 734.5 159.3C735.8 159.2 737.2 159 738.5 158.8C739.8 158.7 741.1 158.5 742.5 158.4C743.8 158.3 745.1 158.2 746.4 158.1C747.8 158 749.1 157.9 750.4 157.8C751.7 157.6 753.1 157.4 754.4 157.2C755.7 157 757 156.8 758.3 156.6C759.6 156.4 761 156.2 762.3 156.1C763.6 156 765 155.9 766.3 155.9C767.6 155.8 769 155.9 770.3 156C771.6 156.1 772.9 156.2 774.3 156.4C775.6 156.5 776.9 156.8 778.2 157.1C779.5 157.4 780.8 157.7 782 158.2C783.3 158.6 784.6 159 785.8 159.5C787 160 788.3 160.6 789.5 161.1C790.7 161.7 791.8 162.4 793 163C794.1 163.7 795.3 164.4 796.4 165.1C797.6 165.7 798.7 166.4 799.9 167.1C801 167.8 802.2 168.5 803.3 169.1C804.5 169.8 805.7 170.4 806.8 171C808 171.7 809.2 172.2 810.4 172.8C811.6 173.4 812.8 174 814 174.6C815.2 175.2 816.4 175.8 817.6 176.4C818.8 177 820 177.6 821.2 178.1C822.4 178.7 823.6 179.2 824.9 179.7C826.1 180.2 827.3 180.7 828.6 181.1C829.8 181.6 831.1 182 832.4 182.4C833.7 182.8 834.9 183.2 836.2 183.5C837.5 183.9 838.8 184.2 840.1 184.6C841.4 184.9 842.7 185.2 844 185.5C845.3 185.7 846.6 186 847.9 186.3C849.2 186.5 850.5 186.7 851.8 187C853.1 187.2 854.8 187.4 855.6 187.6C856.5 187.7 856.8 187.7 857 187.8" stroke="#237a2b" stroke-width="1.4" fill="none" stroke-linejoin="round"/>
<path d="M474.8 326.5C475.4 326.4 477.4 326.2 478.7 326C480.1 325.8 481.4 325.5 482.6 325.2C483.9 324.9 485.2 324.5 486.5 324C487.7 323.6 489 323.2 490.2 322.7C491.5 322.3 492.8 321.8 494 321.4C495.3 321 496.6 320.6 497.9 320.2C499.1 319.9 500.4 319.6 501.8 319.3C503.1 319.1 504.4 318.9 505.7 318.8C507 318.7 508.4 318.6 509.7 318.5C511 318.4 512.4 318.4 513.7 318.2C515 318.1 516.3 317.9 517.6 317.6C518.9 317.4 520.3 317.1 521.5 316.7C522.8 316.4 524.1 316 525.4 315.6C526.6 315.1 527.9 314.6 529 314C530.2 313.5 531.4 312.8 532.6 312.1C533.7 311.4 534.8 310.6 535.8 309.8C536.9 309 537.9 308.1 538.8 307.2C539.7 306.2 540.6 305.2 541.4 304.2C542.3 303.2 543.1 302.1 543.8 301C544.6 299.9 545.4 298.8 546.1 297.6C546.8 296.5 547.5 295.4 548.1 294.2C548.8 293 549.4 291.9 550 290.7C550.6 289.5 551.1 288.2 551.6 287C552.1 285.8 552.5 284.5 553 283.2C553.4 282 553.8 280.7 554.2 279.4C554.7 278.2 555 276.9 555.4 275.6C555.8 274.4 556.2 273.1 556.6 271.8C556.9 270.5 557.3 269.2 557.7 268C558.1 266.7 558.4 265.4 558.8 264.1C559.2 262.8 559.6 261.5 559.9 260.3C560.3 259 560.7 257.7 561.1 256.5C561.5 255.2 562 253.9 562.4 252.7C562.8 251.4 563.3 250.1 563.8 248.9C564.3 247.7 564.8 246.4 565.3 245.2C565.8 244 566.4 242.8 566.9 241.6C567.5 240.4 568.1 239.2 568.7 238C569.3 236.8 569.9 235.5 570.4 234.3C571 233.1 571.6 231.9 572.2 230.7C572.8 229.6 573.5 228.4 574.2 227.3C575 226.3 575.8 225.2 576.6 224.2C577.5 223.2 578.4 222.2 579.3 221.2C580.2 220.1 581 219.1 581.9 218.1C582.8 217.1 583.7 216.1 584.5 215.1C585.4 214.1 586.3 213.1 587.1 212C588 211 588.8 210 589.6 208.9C590.4 207.9 591.2 206.8 592 205.7C592.8 204.7 593.6 203.6 594.4 202.5C595.2 201.4 595.9 200.3 596.7 199.2C597.4 198.1 598.2 197 598.9 195.9C599.7 194.8 600.4 193.7 601.1 192.6C601.8 191.5 602.5 190.3 603.2 189.2C603.9 188 604.6 186.9 605.3 185.7C605.9 184.6 606.6 183.4 607.2 182.2C607.8 181 608.4 179.9 609 178.7C609.6 177.4 610.1 176.2 610.6 175C611.1 173.8 611.6 172.5 612.1 171.3C612.5 170 613 168.8 613.5 167.5C614 166.3 614.5 165.1 615 163.8C615.4 162.6 615.9 161.3 616.4 160.1C616.9 158.8 617.4 157.6 617.9 156.4C618.4 155.1 618.8 153.9 619.3 152.6C619.7 151.4 620.2 150.1 620.6 148.9C621.1 147.6 621.5 146.3 621.9 145.1C622.3 143.8 622.7 142.5 623.1 141.2C623.5 140 623.8 138.7 624.2 137.4C624.5 136.1 624.9 134.8 625.2 133.5C625.6 132.2 625.9 131 626.3 129.7C626.6 128.4 627 127.1 627.4 125.8C627.7 124.5 628.1 123.3 628.4 122C628.8 120.7 629.1 119.4 629.5 118.1C629.8 116.8 630.1 115.5 630.5 114.2C630.8 112.9 631.2 111.7 631.5 110.4C631.9 109.1 632.3 107.8 632.6 106.5C633 105.2 633.4 104 633.8 102.7C634.2 101.4 634.6 100.2 635 98.9C635.4 97.6 635.9 96.4 636.3 95.1C636.8 93.9 637.2 92.6 637.7 91.4C638.3 90.1 638.8 88.9 639.5 87.8C640.1 86.6 640.9 85.4 641.8 84.6C642.7 83.7 643.9 82.9 645 82.7C646.1 82.4 647.5 82.7 648.6 83.1C649.8 83.6 650.8 84.5 651.8 85.4C652.7 86.3 653.5 87.4 654.2 88.6C654.9 89.7 655.6 90.8 656.2 92C656.8 93.2 657.3 94.4 657.9 95.7C658.4 96.9 658.9 98.1 659.4 99.3C660 100.6 660.5 101.8 661 103C661.5 104.3 662 105.5 662.5 106.7C663 107.9 663.6 109.2 664.1 110.4C664.6 111.6 665.1 112.9 665.6 114.1C666.1 115.3 666.6 116.6 667.2 117.8C667.7 119 668.2 120.2 668.8 121.4C669.3 122.6 669.9 123.9 670.5 125.1C671 126.3 671.6 127.5 672.1 128.7C672.7 129.9 673.2 131.1 673.8 132.4C674.3 133.6 674.9 134.8 675.4 136C676 137.2 676.6 138.4 677.1 139.6C677.6 140.9 678.1 142.1 678.6 143.3C679.1 144.6 679.5 145.9 680 147.1C680.5 148.3 681 149.5 681.7 150.6C682.4 151.8 683.2 152.9 684.1 153.9C684.9 154.9 685.8 155.9 686.8 156.8C687.8 157.7 688.8 158.6 689.9 159.3C691 160 692.2 160.7 693.4 161.1C694.7 161.6 696 161.9 697.3 162.2C698.6 162.4 699.9 162.5 701.2 162.6C702.6 162.6 703.9 162.6 705.2 162.5C706.6 162.4 707.9 162.3 709.2 162.1C710.5 162 711.9 161.7 713.2 161.6C714.5 161.4 715.8 161.2 717.2 161.1C718.5 160.9 719.8 160.8 721.1 160.6C722.5 160.5 723.8 160.4 725.1 160.2C726.4 160.1 727.8 160 729.1 159.9C730.4 159.8 731.7 159.7 733.1 159.5C734.4 159.4 735.7 159.2 737 159C738.4 158.8 739.7 158.7 741 158.5C742.3 158.4 743.7 158.3 745 158.2C746.3 158.1 747.7 158.1 749 157.9C750.3 157.8 751.6 157.6 752.9 157.4C754.3 157.2 755.6 157 756.9 156.8C758.2 156.6 759.5 156.4 760.9 156.2C762.2 156.1 763.5 156 764.8 155.9C766.2 155.8 767.5 155.8 768.8 155.9C770.2 155.9 771.5 156.1 772.8 156.2C774.2 156.3 775.5 156.5 776.8 156.8C778.1 157 779.4 157.4 780.7 157.7C781.9 158.1 783.2 158.5 784.5 159C785.7 159.5 786.9 160 788.1 160.5C789.4 161.1 790.5 161.7 791.7 162.3C792.9 162.9 794 163.6 795.2 164.3C796.3 165 797.5 165.7 798.6 166.4C799.8 167.1 800.9 167.7 802.1 168.4C803.2 169.1 804.4 169.7 805.6 170.4C806.7 171 807.9 171.6 809.1 172.2C810.3 172.8 811.5 173.4 812.7 174C813.9 174.6 815.1 175.2 816.3 175.8C817.5 176.4 818.7 177 819.9 177.5C821.1 178.1 822.3 178.6 823.5 179.2C824.7 179.7 826 180.2 827.2 180.6C828.5 181.1 829.7 181.5 831 182C832.3 182.4 833.5 182.8 834.8 183.1C836.1 183.5 837.4 183.9 838.7 184.2C840 184.5 841.3 184.8 842.6 185.1C843.9 185.4 845.2 185.7 846.5 186C847.8 186.2 849.1 186.5 850.4 186.7C851.7 186.9 853.2 187.2 854.3 187.4C855.4 187.5 856.5 187.7 857 187.8" stroke="#3aa61a" stroke-width="3.0" fill="none" stroke-linejoin="round"/>
</g>
<path d="M648.1 66.6V122.8M680.1 94.2V183" stroke="#4a4a4a" stroke-width="1.7" stroke-dasharray="2.8 2.6" fill="none"/>
<path d="M516.4 360.5v-6M516.4 53.3v6M558 360.5v-6M558 53.3v6M599.5 360.5v-6M599.5 53.3v6M641.1 360.5v-6M641.1 53.3v6M682.7 360.5v-6M682.7 53.3v6M724.3 360.5v-6M724.3 53.3v6M765.9 360.5v-6M765.9 53.3v6M807.4 360.5v-6M807.4 53.3v6M849 360.5v-6M849 53.3v6M495.6 360.5v-3.2M495.6 53.3v3.2M537.2 360.5v-3.2M537.2 53.3v3.2M578.8 360.5v-3.2M578.8 53.3v3.2M620.3 360.5v-3.2M620.3 53.3v3.2M661.9 360.5v-3.2M661.9 53.3v3.2M703.5 360.5v-3.2M703.5 53.3v3.2M745.1 360.5v-3.2M745.1 53.3v3.2M786.7 360.5v-3.2M786.7 53.3v3.2M828.2 360.5v-3.2M828.2 53.3v3.2M474.8 69.5h6M857.1 69.5h-6M474.8 101.8h6M857.1 101.8h-6M474.8 134.1h6M857.1 134.1h-6M474.8 166.5h6M857.1 166.5h-6M474.8 198.8h6M857.1 198.8h-6M474.8 231.2h6M857.1 231.2h-6M474.8 263.5h6M857.1 263.5h-6M474.8 295.8h6M857.1 295.8h-6M474.8 328.2h6M857.1 328.2h-6M474.8 85.6h3.2M857.1 85.6h-3.2M474.8 117.9h3.2M857.1 117.9h-3.2M474.8 150.3h3.2M857.1 150.3h-3.2M474.8 182.6h3.2M857.1 182.6h-3.2M474.8 215h3.2M857.1 215h-3.2M474.8 247.3h3.2M857.1 247.3h-3.2M474.8 279.6h3.2M857.1 279.6h-3.2M474.8 312h3.2M857.1 312h-3.2M474.8 344.3h3.2M857.1 344.3h-3.2" stroke="#333333" stroke-width="1.4" fill="none"/>
<rect x="474.8" y="53.3" width="382.3" height="307.2" fill="none" stroke="#333333" stroke-width="1.5"/>
<text x="474.8" y="377.7" font-size="13.2" text-anchor="middle" fill="#1c1c1c" stroke="#1c1c1c" stroke-width="0.15">6535</text>
<text x="516.4" y="377.7" font-size="13.2" text-anchor="middle" fill="#1c1c1c" stroke="#1c1c1c" stroke-width="0.15">6540</text>
<text x="558" y="377.7" font-size="13.2" text-anchor="middle" fill="#1c1c1c" stroke="#1c1c1c" stroke-width="0.15">6545</text>
<text x="599.5" y="377.7" font-size="13.2" text-anchor="middle" fill="#1c1c1c" stroke="#1c1c1c" stroke-width="0.15">6550</text>
<text x="641.1" y="377.7" font-size="13.2" text-anchor="middle" fill="#1c1c1c" stroke="#1c1c1c" stroke-width="0.15">6555</text>
<text x="682.7" y="377.7" font-size="13.2" text-anchor="middle" fill="#1c1c1c" stroke="#1c1c1c" stroke-width="0.15">6560</text>
<text x="724.3" y="377.7" font-size="13.2" text-anchor="middle" fill="#1c1c1c" stroke="#1c1c1c" stroke-width="0.15">6565</text>
<text x="765.9" y="377.7" font-size="13.2" text-anchor="middle" fill="#1c1c1c" stroke="#1c1c1c" stroke-width="0.15">6570</text>
<text x="807.4" y="377.7" font-size="13.2" text-anchor="middle" fill="#1c1c1c" stroke="#1c1c1c" stroke-width="0.15">6575</text>
<text x="849" y="377.7" font-size="13.2" text-anchor="middle" fill="#1c1c1c" stroke="#1c1c1c" stroke-width="0.15">6580</text>
<text x="666" y="402.3" font-size="15.8" text-anchor="middle" textLength="82.8" lengthAdjust="spacingAndGlyphs" fill="#1c1c1c" stroke="#1c1c1c" stroke-width="0.15">Energy / eV</text>
<text transform="translate(461.6 206.5) rotate(-90)" font-size="15.3" text-anchor="middle" textLength="205" lengthAdjust="spacingAndGlyphs" fill="#1c1c1c" stroke="#1c1c1c" stroke-width="0.15">Normalized Absorption / a. u.</text>
<text x="445.6" y="36.2" font-size="20.2" textLength="114.4" lengthAdjust="spacingAndGlyphs" fill="#1c1c1c" stroke="#1c1c1c" stroke-width="0.15">Li<tspan font-size="13.3" dy="4.8">2</tspan><tspan dy="-4.8">MnO</tspan><tspan font-size="13.3" dy="4.8">3/2</tspan><tspan dy="-4.8">F</tspan><tspan font-size="13.3" dy="4.8">3/2</tspan></text>
<text x="654" y="76.8" font-size="15" fill="#1c1c1c" stroke="#1c1c1c" stroke-width="0.15">Mn<tspan font-size="10" dy="-6">3+</tspan></text>
<text x="687.8" y="96.2" font-size="15" fill="#1c1c1c" stroke="#1c1c1c" stroke-width="0.15">Mn<tspan font-size="10" dy="-6">4+</tspan></text>
<text x="733" y="84.5" font-size="22" textLength="108.6" lengthAdjust="spacingAndGlyphs" fill="#1c1c1c" stroke="#1c1c1c" stroke-width="0.15">Mn K-edge</text>
<path d="M597.5 276.3H629.4" stroke="#237a2b" stroke-width="1.5"/>
<text x="633.1" y="281" font-size="14.9" textLength="83" lengthAdjust="spacingAndGlyphs" fill="#1c1c1c" stroke="#1c1c1c" stroke-width="0.15">As-prepared</text>
<path d="M597.5 296.8H629.4" stroke="#b4ec96" stroke-width="1.4"/>
<text x="633.1" y="301.9" font-size="14.9" textLength="195.2" lengthAdjust="spacingAndGlyphs" fill="#1c1c1c" stroke="#1c1c1c" stroke-width="0.15">Partial charge (135 mA h g<tspan font-size="10" dy="-6">-1</tspan><tspan dy="6">)</tspan></text>
<path d="M597.5 314.9H629.4" stroke="#7ddc2a" stroke-width="1.4"/>
<text x="633.1" y="320.4" font-size="14.9" textLength="114.5" lengthAdjust="spacingAndGlyphs" fill="#1c1c1c" stroke="#1c1c1c" stroke-width="0.15">Charged to 4.8 V</text>
<path d="M597.5 333.7H629.4" stroke="#3aa61a" stroke-width="2.8"/>
<text x="633.1" y="338.7" font-size="14.9" textLength="133.5" lengthAdjust="spacingAndGlyphs" fill="#1c1c1c" stroke="#1c1c1c" stroke-width="0.15">Discharged to 1.5 V</text>
<g clip-path="url(#cC)">
<path d="M54.4 695.9C54.7 695.8 56 695.6 56.6 695.3C57.2 695.1 58.3 694 58.8 693.7C59.3 693.4 60.2 693.2 60.6 693C61.1 692.7 62 692.3 62.5 691.8C63 691.3 63.9 689.6 64.4 689C64.9 688.5 65.8 687.3 66.3 687.4C66.8 687.6 67.7 689.7 68.2 690C68.7 690.3 69.6 689.3 70.1 689.5C70.6 689.6 71.5 690.3 72 690.9C72.6 691.5 73.5 694 74 694.1C74.5 694.2 75.5 692.1 76 691.7C76.5 691.3 77.5 691.4 78 691.2C78.5 691.1 79.2 690.6 79.7 690.6C80.1 690.6 80.9 691.2 81.3 691.1C81.8 691.1 82.5 690.3 83 690.2C83.5 690.1 84.7 690.4 85.3 690.3C85.9 690.2 87 690.1 87.6 689.8C88.2 689.5 89.2 688.4 89.8 688.1C90.4 687.7 91.4 687.7 92 687.5C92.6 687.3 93.6 687 94.2 686.5C94.8 686.1 95.8 684.7 96.4 684.3C97 684 97.9 684.3 98.5 684C99.1 683.6 100 682.3 100.6 681.7C101.2 681.1 102.1 680 102.7 679.2C103.3 678.3 104.3 675.9 104.9 675.1C105.5 674.4 106.6 674.5 107.1 673.5C107.6 672.5 108.2 669 108.7 667.6C109.1 666.3 109.8 664.4 110.2 663.2C110.6 662 111.1 659.8 111.5 658.5C111.8 657.1 112.4 654.3 112.7 653.1C113 651.9 113.3 650.6 113.5 649.4C113.8 648.2 114.1 645.2 114.4 644C114.6 642.9 114.9 642.1 115.2 640.8C115.5 639.5 116.1 635.8 116.5 634.3C116.8 632.9 117.4 630.9 117.7 629.8C118 628.6 118.3 626.8 118.5 625.5C118.8 624.1 119.1 620.9 119.4 619.6C119.6 618.3 119.9 616.9 120.2 615.5C120.5 614.1 121.2 610.6 121.5 609.4C121.8 608.2 122.2 607.7 122.5 606.5C122.8 605.4 123 602.4 123.5 600.9C124 599.3 125.3 596 126 594.8C126.7 593.6 128.2 592.3 128.9 592.1C129.6 591.8 130.7 592.6 131.4 593C132.1 593.4 133.2 595.3 133.9 595.2C134.6 595.2 135.7 593.3 136.4 592.7C137.1 592.1 138.2 591.2 138.9 590.7C139.6 590.2 141.2 589.9 142 589.2C142.8 588.5 144.4 586.4 145.2 585.4C146 584.4 147.5 582.5 148.3 581.4C149.1 580.3 150.6 578.5 151.4 577.4C152.2 576.4 153.8 574.8 154.6 573.8C155.4 572.8 157 570.8 157.7 570.1C158.4 569.4 159.1 568.9 159.6 568.4C160.1 567.9 160.8 566.2 161.5 566.3C162.2 566.3 163.8 568 164.5 568.8C165.2 569.6 166.3 571.4 167 572.5C167.7 573.6 168.8 575.6 169.5 576.9C170.2 578.2 171.3 580.4 172 582.2C172.7 583.9 174.4 588.5 175 590C175.6 591.4 176.1 591.9 176.5 593.1C176.9 594.3 177.6 597.6 178 598.7C178.4 599.9 179.3 600.9 179.8 601.7C180.2 602.4 181 603.7 181.5 604.5C182 605.3 182.9 606.6 183.4 607.8C183.9 609 184.8 612 185.3 613.3C185.8 614.5 186.7 616.4 187.2 617.1C187.7 617.8 188.6 617.9 189.1 618.6C189.6 619.3 190.4 621.9 190.8 622.7C191.3 623.4 192.1 623.9 192.6 624.3C193.1 624.7 193.8 625.1 194.3 625.6C194.7 626 195.5 627 195.9 627.7C196.4 628.4 197.2 630 197.6 630.6C198 631.2 198.8 632 199.3 632.2C199.7 632.3 200.5 631.4 200.9 631.7C201.4 631.9 202.2 633.9 202.6 634.3C203 634.6 203.8 633.9 204.3 634.3C204.7 634.7 205.5 636.7 205.9 637.1C206.4 637.6 207.2 637.3 207.6 637.6C208 638 208.8 639.4 209.3 639.8C209.7 640.3 210.5 640.9 210.9 641.1C211.4 641.2 212.2 640.7 212.6 641C213 641.3 213.8 642.9 214.3 643.1C214.8 643.3 215.5 642.6 216 642.6C216.5 642.6 217.3 642.7 217.7 643.1C218.1 643.4 218.9 644.8 219.4 645.1C219.8 645.3 220.6 644.5 221 644.6C221.5 644.7 222.3 645.5 222.7 645.8C223.1 646.1 223.9 646.5 224.4 646.8C224.8 647.1 225.6 647.7 226 647.7C226.5 647.8 227.3 647.4 227.7 647.2C228.1 647.1 228.9 646.7 229.4 646.8C229.8 647 230.6 648.4 231 648.5C231.5 648.5 232.3 647.2 232.7 647.1C233.1 647 233.9 647.8 234.4 647.8C234.8 647.8 235.6 647.4 236 647C236.5 646.7 237.3 645.6 237.7 645.2C238.1 644.8 238.9 644.3 239.3 643.9C239.8 643.6 240.4 643.4 241 642.5C241.6 641.7 242.9 638.9 243.5 637.3C244.1 635.7 244.8 631.9 245.3 630.4C245.8 628.9 246.5 627.3 247 626.2C247.4 625.1 248.2 623.1 248.6 622.1C249.1 621.1 249.9 619.8 250.3 618.7C250.7 617.5 251.2 614.8 251.5 613.5C251.9 612.2 252.4 610.2 252.8 609.1C253.1 608.1 253.7 606.8 254 605.6C254.3 604.4 254.7 601.4 254.9 600.1C255.2 598.9 255.6 596.9 255.9 595.9C256.2 595 256.6 594.1 256.9 593C257.1 591.9 257.5 589 257.8 587.6C258.1 586.3 258.6 584.5 258.8 583.1C259.1 581.7 259.6 578.6 259.9 577.3C260.1 576.1 260.6 574.7 260.9 573.6C261.2 572.6 261.7 570.8 261.9 569.5C262.2 568.2 262.7 565 262.9 563.8C263.2 562.7 263.7 561.7 264 560.7C264.2 559.7 264.7 557.6 265 556.3C265.3 554.9 265.8 551.7 266.1 550.5C266.4 549.3 266.9 548.4 267.2 547.3C267.6 546.2 268.1 543.6 268.4 542.4C268.7 541.2 269.2 539.6 269.5 538.4C269.8 537.2 270.1 534.6 270.3 533.4C270.6 532.3 270.9 531 271.2 530C271.4 529 271.7 527.2 272 525.8C272.3 524.5 273.2 521.2 273.6 519.8C274 518.5 274.6 516.8 275.2 515.5C275.8 514.3 277.6 511.8 278.3 510.6C279 509.3 280.1 507.3 280.8 506.2C281.5 505.2 282.6 502.9 283.3 502.8C284 502.6 285.1 504.1 285.8 505.1C286.5 506.1 287.5 509.3 288.3 510.4C289.1 511.5 290.8 512.7 291.5 513.6C292.2 514.5 292.9 516 293.4 516.9C293.8 517.7 294.7 519 295.2 519.9C295.7 520.8 296.6 522.7 297.1 523.8C297.6 524.8 298.3 526.7 299 528C299.7 529.3 301.2 531.9 302 533.6C302.8 535.3 304.4 539 305 540.7C305.6 542.5 306.1 545.4 306.5 546.6C306.9 547.8 307.6 548.6 308 550C308.4 551.3 309 555 309.3 556.7C309.6 558.3 310.3 561.2 310.6 562.5C310.9 563.9 311.5 565.6 311.9 566.9C312.2 568.1 312.8 570.4 313.1 572C313.4 573.6 314 577.4 314.4 578.9C314.7 580.4 315.3 582 315.6 583.3C315.9 584.7 316.5 587.3 316.9 588.9C317.2 590.4 317.7 593.5 318.1 595.1C318.5 596.6 319.3 599.1 319.7 600.3C320.1 601.4 320.9 602.5 321.3 603.6C321.7 604.7 322.4 607.2 322.9 608.4C323.3 609.6 323.9 611.4 324.4 612.6C324.9 613.9 325.8 616.5 326.3 617.5C326.8 618.5 327.7 619.5 328.2 620.4C328.7 621.2 329.5 623.2 330 623.8C330.5 624.4 331.3 624.4 331.8 624.8C332.3 625.2 333 626.2 333.5 626.8C333.9 627.4 334.7 628.6 335.1 629.2C335.6 629.8 336.4 631 336.8 631.3C337.2 631.7 338 631.8 338.5 632.1C339 632.3 339.7 632.9 340.2 633.2C340.7 633.6 341.5 634.2 341.9 634.7C342.3 635.1 343.1 636.3 343.6 636.6C344 636.9 344.8 636.5 345.2 636.8C345.7 637.2 346.5 638.7 346.9 639.2C347.3 639.6 348.1 640.2 348.6 640.2C349 640.3 349.8 639.7 350.2 639.8C350.7 639.9 351.4 640.5 351.9 641C352.4 641.5 353.4 643.2 354 643.7C354.6 644.2 355.5 644.4 356.1 644.8C356.7 645.2 357.7 646.4 358.2 646.7C358.7 646.9 359.4 646.5 359.9 646.5C360.3 646.5 361.1 646.6 361.5 646.9C362 647.1 362.8 647.6 363.2 648C363.6 648.4 364.4 649.6 364.9 649.8C365.3 650 366.1 649.3 366.5 649.3C367 649.4 367.7 650 368.2 650.2C368.7 650.3 369.6 650.4 370.1 650.4C370.5 650.5 371.4 650.5 371.9 650.6C372.4 650.6 373.3 650.5 373.8 650.7C374.2 650.9 375.1 652 375.6 651.9C376.1 651.8 377 650.2 377.5 649.9C377.9 649.5 378.8 649 379.3 649.2C379.8 649.3 380.7 650.7 381.1 650.9C381.6 651 382.5 650.5 383 650.3C383.5 650.2 384.3 650.3 384.8 650C385.3 649.7 386.1 648.3 386.6 648.2C387.1 648 387.9 648.7 388.4 648.7C388.9 648.7 389.7 648.4 390.2 648C390.7 647.7 391.6 646.2 392.1 646C392.6 645.8 393.6 646.5 394.1 646.6C394.6 646.6 395.5 646.4 396 646.2C396.5 646.1 397.2 645.7 397.7 645.5C398.1 645.3 398.9 645 399.4 644.7C399.8 644.5 400.6 644 401 643.8C401.5 643.7 402.2 643.7 402.7 643.6C403.2 643.4 404.2 642.9 404.8 642.7C405.4 642.4 406.3 641.7 406.9 641.7C407.5 641.6 408.4 642.3 409 642.2C409.6 642.1 410.5 641 411.1 640.9C411.7 640.8 412.6 641.7 413.2 641.5C413.8 641.3 414.8 639.3 415.3 639.2C415.8 639.1 416.7 640.5 417.2 640.5C417.7 640.6 418.6 639.6 419.1 639.5C419.6 639.3 420.5 639.5 421 639.4C421.5 639.4 422.2 639.1 422.7 639C423.2 638.9 423.9 638.8 424.4 638.6C424.9 638.4 425.6 637.9 426.1 637.5C426.6 637.2 427.3 636 427.8 635.9C428.3 635.9 429.1 637.3 429.5 637.3C430 637.2 430.8 635.9 431.3 635.7C431.7 635.5 432.5 635.7 433 635.8C433.5 635.9 434.5 636.4 435 636.4C435.6 636.5 436.5 636.1 437.1 636C437.6 635.9 438.8 635.8 439.1 635.8" stroke="#b9c6f5" stroke-width="1.4" fill="none" stroke-linejoin="round"/>
<path d="M54.4 694.8C54.7 694.8 56 695.2 56.6 695C57.2 694.8 58.3 693.6 58.8 693.2C59.3 692.9 60.2 692.4 60.6 692.2C61.1 691.9 62 691.5 62.5 691.5C63 691.4 63.9 692.2 64.4 692C64.9 691.9 65.8 690.4 66.3 690.4C66.8 690.5 67.7 691.9 68.2 692.1C68.7 692.4 69.6 692.2 70.1 692.2C70.6 692.1 71.3 691.8 71.8 691.8C72.2 691.9 73 692.4 73.4 692.6C73.9 692.8 74.6 693.3 75.1 693.2C75.6 693 76.6 691.5 77.2 691.4C77.8 691.3 78.7 692.3 79.3 692.5C79.9 692.6 80.8 692.6 81.4 692.4C82 692.3 82.9 691.7 83.5 691.5C84 691.3 85 691.3 85.5 690.9C86.1 690.5 87.1 688.6 87.6 688.4C88.1 688.2 88.8 689.3 89.3 689.4C89.7 689.6 90.5 689.9 90.9 689.6C91.4 689.4 92.2 687.8 92.6 687.5C93 687.2 93.8 687.4 94.3 687.3C94.8 687.2 95.5 686.8 96 686.7C96.5 686.6 97.2 686.8 97.7 686.6C98.2 686.3 99.3 685.1 99.8 684.6C100.4 684.1 101.5 683.3 102 682.9C102.5 682.6 103.3 682.5 103.8 681.9C104.2 681.3 104.9 679.5 105.5 678.5C106.1 677.5 108 675.4 108.6 674.2C109.2 673.1 109.7 671.1 110.2 670C110.6 668.8 111.3 666.8 111.7 665.6C112.1 664.4 112.6 662 113 661.1C113.3 660.2 113.9 659.8 114.2 658.7C114.5 657.7 115.1 655 115.5 653.4C115.8 651.8 116.4 648.1 116.7 646.7C117 645.2 117.4 643.9 117.7 642.6C117.9 641.3 118.3 638.7 118.6 637.2C118.9 635.7 119.3 633 119.5 631.5C119.8 630 120.3 627.2 120.5 626C120.7 624.7 120.9 623.3 121.1 622.2C121.3 621.1 121.5 619 121.7 617.7C121.9 616.4 122.6 613.8 122.8 612.5C123 611.2 123.3 609.1 123.4 608C123.6 606.8 123.9 605.2 124.1 604.1C124.2 603 124.4 600.8 124.7 599.5C125 598.1 125.9 595.1 126.5 594.1C127.1 593.2 128.2 592.7 128.9 592.5C129.6 592.2 130.7 592 131.4 592.2C132.1 592.4 133.2 594.2 133.9 594.1C134.6 593.9 135.7 591.9 136.4 591.3C137.1 590.6 138.2 589.6 138.9 589.2C139.6 588.9 141.2 589.4 142 588.7C142.8 588 144.4 585.3 145.2 584.1C146 582.9 147.5 580.9 148.3 579.7C149.1 578.6 150.6 576.7 151.4 575.7C152.2 574.7 153.8 573.4 154.6 572.3C155.4 571.1 157.1 567.7 157.7 566.8C158.3 566 158.9 566 159.3 565.7C159.7 565.5 160.3 565 160.9 565C161.5 565 163.2 565.1 164 565.4C164.8 565.8 166.2 566.9 167 567.8C167.8 568.8 169.1 571.1 169.8 572.4C170.5 573.7 171.6 576 172.3 577.4C173 578.8 174.3 581.6 174.8 582.9C175.3 584.3 175.9 586.6 176.4 587.8C176.8 589.1 177.5 591.4 177.9 592.4C178.3 593.4 179 594.3 179.4 595.3C179.9 596.4 180.5 599.2 181 600.3C181.5 601.5 182.4 603 182.9 604.1C183.4 605.2 184.3 607.7 184.8 608.8C185.3 610 186.2 611.9 186.7 612.7C187.2 613.6 188.1 614.3 188.6 615.2C189.1 616.1 190 618.5 190.4 619.4C190.9 620.3 191.8 621.7 192.3 622.1C192.8 622.6 193.6 622.5 194.1 622.9C194.5 623.4 195.4 624.9 195.8 625.4C196.3 625.8 197.1 626 197.6 626.6C198.1 627.2 198.8 629.2 199.3 629.8C199.7 630.4 200.5 630.7 200.9 631.2C201.4 631.6 202.2 632.9 202.6 633.4C203 633.8 203.8 634.3 204.3 634.6C204.7 634.9 205.5 635.4 205.9 635.7C206.4 636.1 207.2 637 207.6 637.3C208 637.6 208.8 637.9 209.3 638C209.7 638.1 210.5 637.8 210.9 638.1C211.4 638.4 212.2 639.9 212.6 640.2C213 640.5 213.8 639.9 214.3 640.1C214.8 640.3 215.5 641 216 641.5C216.5 642.1 217.3 643.9 217.7 644.1C218.1 644.3 218.9 643.3 219.4 643.3C219.8 643.4 220.6 644 221 644.3C221.5 644.5 222.3 644.7 222.7 645.1C223.1 645.5 223.9 647.1 224.4 647.3C224.8 647.4 225.6 646.3 226 646.2C226.5 646 227.3 646 227.7 646.3C228.1 646.5 228.9 648.1 229.4 648.1C229.8 648.2 230.6 646.6 231 646.6C231.5 646.6 232.3 648.2 232.7 648.3C233.1 648.4 233.9 647.5 234.4 647.4C234.8 647.2 235.6 647.3 236 647.2C236.5 647.2 237.2 647.3 237.7 647C238.2 646.7 239.3 645.5 239.9 645.2C240.5 644.9 241.4 645.5 242.1 644.7C242.8 643.8 244.2 640 245 638.5C245.8 637 247.2 635.1 248 633.3C248.8 631.5 250.3 627.2 251 625.2C251.7 623.2 253 620 253.5 618.2C254 616.4 254.4 613.1 254.8 611.8C255.1 610.4 255.7 609.1 256 608.1C256.3 607.2 256.6 605.7 256.8 604.4C257.1 603.1 257.4 599.6 257.7 598.3C257.9 597 258.2 595.9 258.5 594.7C258.8 593.6 259.4 590.9 259.8 589.6C260.1 588.2 260.7 586 261 584.5C261.3 583 261.9 579.8 262.2 578.2C262.6 576.7 263.2 574.4 263.5 573.1C263.8 571.8 264.3 569.6 264.6 568.4C264.9 567.3 265.4 565.5 265.8 564.4C266.1 563.3 266.6 561.2 266.9 559.9C267.2 558.5 267.7 555.7 268 554.3C268.3 552.9 269 550.7 269.3 549.4C269.7 548.1 270.3 545.9 270.7 544.6C271 543.3 271.7 540.8 272 539.7C272.3 538.5 272.9 537 273.2 535.8C273.6 534.7 274.1 532.5 274.5 531.1C274.9 529.7 275.9 526.4 276.4 525.3C276.9 524.2 277.8 524.1 278.3 523.2C278.8 522.3 279.7 519.5 280.2 518.8C280.7 518.1 281.6 518.5 282 518C282.5 517.5 283.3 515.4 283.9 515.2C284.5 514.9 285.7 515.7 286.4 516.3C287.1 516.9 288.3 518.9 288.9 519.6C289.5 520.2 290.3 520.8 290.8 521.3C291.3 521.7 292.2 522.5 292.7 522.8C293.2 523.2 294.1 523.6 294.6 524C295.1 524.4 296 525 296.5 525.6C297 526.2 297.9 528.2 298.4 528.7C298.8 529.2 299.7 529.1 300.2 529.5C300.7 529.9 301.4 531 301.9 531.8C302.3 532.6 302.9 534.2 303.5 535.5C304.1 536.9 305.9 540.5 306.5 541.9C307.1 543.3 307.6 545 308.1 546.2C308.5 547.4 309.2 549.7 309.6 551.2C310 552.7 310.5 556 310.9 557.4C311.2 558.9 311.8 560.6 312.1 561.9C312.4 563.2 313 565.8 313.4 567.1C313.7 568.4 314.3 570.4 314.6 571.9C314.9 573.5 315.5 576.9 315.9 578.4C316.2 580 316.8 582.1 317.1 583.5C317.4 584.9 318 587.3 318.4 589C318.7 590.6 319.2 594.1 319.6 595.6C320 597.2 320.8 599.5 321.2 600.6C321.6 601.7 322.4 602.5 322.8 603.6C323.2 604.7 323.9 607.6 324.4 608.9C324.8 610.1 325.4 611.5 325.9 612.6C326.4 613.7 327.3 616.3 327.8 617.3C328.3 618.4 329.2 619.8 329.7 620.5C330.2 621.1 331 621.7 331.5 622.2C332 622.7 332.8 624 333.3 624.5C333.8 624.9 334.5 625.2 335 625.7C335.4 626.2 336.2 627.8 336.6 628.4C337.1 628.9 337.9 629.5 338.3 629.8C338.7 630.2 339.5 630.6 340 631.1C340.5 631.5 341.2 632.7 341.7 633.2C342.2 633.7 343 634.3 343.4 634.8C343.8 635.3 344.6 636.5 345.1 636.6C345.5 636.8 346.3 635.8 346.7 636.1C347.2 636.4 348 638.4 348.4 638.8C348.8 639.2 349.6 638.7 350.1 638.9C350.5 639.1 351.3 640.1 351.7 640.4C352.2 640.7 352.9 640.9 353.4 641.3C353.9 641.8 354.9 643.3 355.5 643.8C356.1 644.4 357 645.1 357.6 645.4C358.2 645.8 359.2 646.3 359.7 646.5C360.2 646.7 360.9 646.8 361.4 647C361.8 647.2 362.6 647.9 363 648.2C363.5 648.4 364.2 649 364.7 649.1C365.2 649.2 366 648.5 366.5 648.6C367 648.8 367.9 649.6 368.4 649.9C368.9 650.3 369.7 651 370.2 651C370.7 651 371.6 650.2 372.1 650.1C372.5 649.9 373.4 649.7 373.9 649.7C374.4 649.6 375.3 649.6 375.8 649.8C376.2 650 377.1 650.9 377.6 651C378.1 651.1 379 650.6 379.5 650.6C380 650.6 380.9 651 381.4 651C381.9 651 382.8 650.8 383.3 650.5C383.8 650.3 384.7 649.2 385.2 648.9C385.7 648.6 386.6 648.5 387.1 648.4C387.6 648.3 388.4 648.2 388.9 648.1C389.4 648 390.3 647.5 390.8 647.5C391.3 647.6 392.2 648.2 392.7 648.3C393.2 648.3 394.1 648.3 394.6 648.3C395.1 648.2 395.9 648.3 396.4 648C396.9 647.8 397.8 646.4 398.3 646.3C398.8 646.2 399.7 647.4 400.2 647.3C400.7 647.2 401.6 645.9 402.1 645.7C402.6 645.4 403.4 645.5 403.9 645.5C404.4 645.5 405.3 645.9 405.8 645.7C406.3 645.5 407.2 644.2 407.7 643.9C408.2 643.6 409.1 643.3 409.6 643.4C410.1 643.5 411 644.6 411.5 644.5C412 644.4 412.9 643 413.4 642.8C413.9 642.5 414.8 642.4 415.3 642.4C415.8 642.3 416.7 642.4 417.2 642.3C417.7 642.3 418.6 642.3 419.1 642C419.6 641.6 420.5 640.1 421 639.9C421.5 639.7 422.2 640.2 422.7 640.3C423.2 640.3 423.9 640.2 424.4 640.1C424.9 640.1 425.6 640 426.1 639.8C426.6 639.7 427.3 638.9 427.8 638.9C428.3 638.8 429.1 639.2 429.5 639.4C430 639.5 430.8 640 431.3 639.8C431.7 639.7 432.5 638.5 433 638.3C433.5 638.1 434.5 638.5 435 638.3C435.6 638.2 436.5 637.2 437.1 637.1C437.6 637 438.8 637.6 439.1 637.7" stroke="#4b6fe0" stroke-width="1.4" fill="none" stroke-linejoin="round"/>
<path d="M54.4 695.1C54.7 695.1 55.9 695 56.4 694.8C57 694.6 57.9 693.9 58.5 693.8C59 693.6 59.9 693.8 60.5 693.7C61 693.6 62 693.3 62.5 693.1C63 692.9 63.9 692.3 64.4 692.2C64.9 692.1 65.8 692.5 66.3 692.5C66.8 692.4 67.7 691.8 68.2 691.7C68.7 691.6 69.6 691.8 70.1 691.7C70.6 691.6 71.5 691.4 72 691.2C72.5 691 73.3 690.5 73.8 690.4C74.3 690.3 75.2 690.3 75.7 690.2C76.2 690.1 77 689.9 77.6 689.7C78.2 689.5 79.4 688.9 80.1 688.6C80.8 688.2 81.9 687.3 82.6 686.9C83.3 686.6 84.4 686.3 85.1 686C85.8 685.8 87 685.3 87.6 684.9C88.2 684.6 89 683.8 89.5 683.5C90 683.1 90.8 682.8 91.4 682.1C92 681.4 93.3 678.8 93.9 678.1C94.5 677.5 95.3 677.7 95.8 677.4C96.3 677.2 97.1 677.2 97.7 676.4C98.3 675.6 99.5 673 100.2 671.7C100.9 670.3 102.1 668.2 102.7 666.5C103.3 664.8 104.1 660.7 104.6 658.9C105.1 657.2 106 655 106.4 653.7C106.8 652.4 107.1 650.3 107.3 649C107.6 647.7 108 645.5 108.3 644C108.6 642.5 109 639.5 109.2 638C109.5 636.5 109.9 634.3 110.2 632.9C110.5 631.4 110.9 628.6 111.2 627.1C111.4 625.5 111.9 622.4 112.1 621C112.3 619.7 112.5 618 112.7 616.7C112.8 615.4 113.1 612.6 113.2 611.2C113.4 609.8 113.6 607.7 113.8 606.4C114 605.1 114.3 602.6 114.4 601.2C114.6 599.8 114.9 597.2 115.1 595.7C115.2 594.2 115.5 591.6 115.7 590.2C115.9 588.9 116.4 586.6 116.7 585.3C116.9 584 117.1 581.9 117.6 580.2C118.1 578.5 119.6 574.3 120.1 572.6C120.6 570.9 121 568.8 121.3 567.4C121.7 566.1 122.1 563.7 122.6 562.3C123.1 560.8 124.5 558.5 125.1 556.6C125.7 554.6 126.4 549.6 127 547.8C127.6 545.9 128.8 543.7 129.5 542.6C130.2 541.6 131.8 540.1 132.6 540C133.4 539.9 135 541.3 135.8 541.8C136.6 542.3 137.6 543.7 138.3 543.6C139 543.5 140.1 541 140.8 541C141.5 541 142.6 542.8 143.3 543.5C144 544.1 145.1 545.4 145.8 546C146.5 546.5 148.1 547.4 148.9 547.6C149.7 547.8 151.3 546.9 152.1 547.4C152.9 547.9 153.9 550.9 154.6 551.5C155.3 552.1 156.5 551.3 157.1 551.9C157.7 552.5 158.5 555.1 159 556.3C159.5 557.4 160.2 559.8 160.9 560.6C161.6 561.5 163.2 561.8 164 562.5C164.8 563.3 166.3 565.1 167.1 566.2C167.9 567.2 169.5 569.1 170.3 570.4C171.1 571.7 172.1 574.7 172.8 576.2C173.5 577.8 174.6 580.3 175.3 582.2C176 584.2 177.8 589.1 178.4 590.8C179 592.6 179.5 594 179.9 595.2C180.4 596.4 181 598.6 181.5 599.7C182 600.9 182.9 602.9 183.4 603.9C183.9 605 184.8 606.7 185.3 607.7C185.8 608.6 186.7 610.1 187.2 611C187.7 612 188.4 613.5 189.1 614.8C189.8 616.1 191.8 619.7 192.6 620.9C193.4 622.2 194.4 623.3 195.1 624.2C195.8 625 196.9 626.5 197.6 627.2C198.3 628 199.4 629 200.1 629.7C200.8 630.3 201.9 631.5 202.6 632.1C203.3 632.6 204.4 633.2 205.1 633.8C205.8 634.3 206.9 635.4 207.6 635.9C208.3 636.4 209.4 637.1 210.1 637.5C210.8 638 211.9 639.1 212.6 639.5C213.3 640 214.5 640.5 215.1 640.8C215.8 641.1 217 641.6 217.7 641.8C218.4 641.9 219.5 641.8 220.2 641.9C220.9 642 222 642.5 222.7 642.5C223.4 642.5 224.5 642.2 225.2 642.2C225.9 642.1 227 642 227.7 641.9C228.4 641.8 229.6 641.4 230.2 641.2C230.8 640.9 231.6 640.3 232.1 640C232.6 639.6 233.3 639.3 234 638.3C234.7 637.4 236.3 634.3 237.1 632.7C237.9 631.2 239.5 628.3 240.2 626.5C240.9 624.6 242.1 621.1 242.7 619C243.3 616.9 244.2 612.4 244.6 610.4C245 608.5 245.3 606.2 245.6 604.6C245.8 603 246.2 600.1 246.5 598.7C246.8 597.2 247.2 594.9 247.4 593.5C247.7 592 248.1 589.1 248.4 587.6C248.7 586.1 249.1 583.5 249.4 582C249.6 580.5 250 578.1 250.3 576.5C250.6 574.8 251.1 571.2 251.3 569.7C251.5 568.1 251.8 566.2 252 564.9C252.2 563.5 252.6 560.9 252.8 559.4C253 558 253.3 555.4 253.5 554C253.7 552.6 254 550.1 254.2 548.7C254.4 547.3 254.8 544.8 255 543.3C255.2 541.9 255.5 539.2 255.7 537.8C255.9 536.4 256.2 534.3 256.4 532.9C256.5 531.5 256.8 529 257 527.5C257.2 526 257.4 523.2 257.6 521.6C257.8 519.9 258 516.9 258.2 515.4C258.4 513.9 258.7 511.6 258.9 510.2C259 508.9 259.2 506.5 259.5 505.2C259.8 504 260.8 502.1 261.4 501.1C262 500.2 263.3 499.1 263.9 498C264.5 496.8 265.2 494 265.7 492.4C266.2 490.9 267.1 488.4 267.6 486.6C268.1 484.8 269 480.9 269.5 479C270 477.1 270.9 473.6 271.4 472.3C271.9 471 272.8 470.7 273.3 469.4C273.8 468.1 274.7 464.1 275.2 462.4C275.7 460.7 276.3 457.4 276.7 456.6C277.1 455.8 277.5 456 277.9 456.3C278.3 456.7 279.1 457.6 279.5 459.1C279.9 460.6 280.3 466 280.8 467.5C281.3 469 282.7 469.2 283.3 470.4C283.9 471.6 284.6 474.8 285.2 476.5C285.8 478.3 287 481.6 287.7 483.6C288.4 485.7 289.6 489.9 290.2 491.7C290.8 493.4 291.6 494.6 292.1 496.5C292.6 498.3 293.6 503.6 294 505.5C294.4 507.3 294.9 509.2 295.2 510.4C295.5 511.5 296.1 512.6 296.5 514.2C296.9 515.7 297.7 520 298 521.9C298.3 523.8 298.8 526.5 299.1 528.1C299.3 529.7 299.8 532.6 300.1 534.1C300.4 535.6 300.8 538.2 301 539.7C301.2 541.2 301.7 543.6 301.9 545.1C302.1 546.5 302.6 548.9 302.9 550.3C303.1 551.6 303.5 553.7 303.8 555.1C304.1 556.4 304.5 559 304.8 560.5C305 561.9 305.4 564.6 305.7 566.1C306 567.6 306.4 570.2 306.6 571.8C306.9 573.3 307.1 575.6 307.6 577.5C308.1 579.4 309.5 584.1 310.1 586.2C310.7 588.2 311.6 591.1 312 592.7C312.4 594.3 312.9 597 313.2 598.5C313.6 600 314 602.3 314.5 604C315 605.7 316.2 609.3 316.9 611.2C317.6 613.2 319.3 617.6 320 618.9C320.7 620.2 321.4 620.6 321.9 621.2C322.4 621.9 323.3 623 323.8 623.9C324.3 624.8 325.2 626.8 325.7 627.8C326.2 628.8 327 630.7 327.6 631.3C328.2 631.9 329.5 631.9 330.1 632.4C330.7 632.8 331.5 634.2 332 634.8C332.4 635.3 333.3 636.1 333.8 636.6C334.3 637 335.2 637.5 335.7 637.9C336.2 638.2 337 639.1 337.6 639.4C338.2 639.8 339.4 640.2 340.1 640.5C340.8 640.7 342 641.1 342.6 641.5C343.2 641.8 344 642.7 344.5 643.1C345 643.6 345.9 644.6 346.4 644.9C346.9 645.1 347.8 644.7 348.2 644.7C348.7 644.7 349.6 644.6 350.1 644.8C350.6 645 351.5 645.5 352 645.9C352.5 646.3 353.4 647.5 353.9 647.7C354.4 647.8 355.3 647 355.8 646.8C356.3 646.6 357.2 646.2 357.7 646.2C358.2 646.2 359.1 646.8 359.5 647.1C360 647.4 360.8 648.2 361.4 648.2C362 648.3 363.2 647.7 363.9 647.5C364.6 647.3 365.8 647 366.4 646.8C367 646.6 367.8 646.1 368.3 645.9C368.8 645.6 369.7 645.3 370.2 645C370.7 644.6 371.5 643.3 372.1 643.3C372.7 643.3 373.9 644.9 374.6 644.9C375.3 644.8 377 643.2 377.7 643C378.4 642.8 379.5 643.4 380.2 643.5C380.9 643.6 382 643.6 382.7 643.6C383.4 643.7 384.6 644.1 385.2 644.1C385.9 644.1 387.2 643.9 387.8 643.9C388.4 643.9 389.2 644.2 389.7 644.3C390.2 644.4 391.1 644.5 391.6 644.5C392.1 644.5 392.9 644.3 393.4 644.4C393.9 644.5 394.7 645.3 395.3 645.2C395.9 645.1 397.1 644 397.8 643.6C398.5 643.2 399.6 642.6 400.3 642.4C401 642.2 402.1 642.1 402.8 641.9C403.5 641.7 404.6 641.1 405.3 641C406 640.9 407.1 641.1 407.8 641.1C408.5 641 409.7 640.8 410.3 640.7C410.9 640.6 411.8 640.2 412.4 640.1C413 640 413.9 639.7 414.5 639.6C415.1 639.6 416 639.7 416.6 639.7C417.2 639.6 418.6 639 419.3 638.9C420 638.8 421.4 639 422 638.9C422.6 638.8 423.4 638.6 423.9 638.5C424.4 638.5 425.4 638.8 425.9 638.7C426.4 638.7 427.2 638.4 427.8 638.2C428.4 637.9 429.6 637.2 430.3 636.9C431 636.5 432.2 635.8 432.8 635.6C433.4 635.5 434.3 635.7 434.9 635.6C435.5 635.5 436.4 635.2 437 635C437.6 634.9 438.8 634.6 439.1 634.5" stroke="#1f1f7a" stroke-width="1.45" fill="none" stroke-linejoin="round"/>
<path d="M54.4 693.8C54.7 693.6 56 692.7 56.6 692.5C57.2 692.3 58.3 692.5 58.8 692.5C59.3 692.4 60.2 692.2 60.6 692C61.1 691.7 62 690.8 62.5 690.4C63 690.1 63.9 689.4 64.4 689.2C64.9 689 65.8 688.8 66.3 688.9C66.8 689 67.7 689.7 68.2 689.9C68.7 690.2 69.6 690.9 70.1 691C70.6 691.1 71.3 690.9 71.8 690.9C72.2 690.9 73 690.9 73.4 691C73.9 691.2 74.6 691.9 75.1 692C75.6 692.2 76.6 692.3 77.2 692.1C77.8 691.9 78.7 690.8 79.3 690.8C79.9 690.7 80.8 691.7 81.4 691.6C82 691.5 82.9 690.3 83.5 690C84 689.8 85 689.8 85.5 689.7C86.1 689.6 87.1 689.1 87.6 689C88.1 688.9 88.8 689.1 89.3 688.9C89.7 688.6 90.5 687.5 90.9 687.3C91.4 687.1 92.2 687.5 92.6 687.5C93 687.5 93.8 687.4 94.3 687.3C94.8 687.3 95.5 687.5 96 687.2C96.5 686.9 97.3 685.6 97.7 685.3C98.1 684.9 98.9 684.7 99.4 684.5C99.8 684.4 100.6 684.6 101 684.3C101.5 684 102.2 682.6 102.7 682.1C103.2 681.7 104.1 681.4 104.6 681C105 680.6 105.7 680.1 106.4 679.4C107.1 678.6 109 676.5 109.6 675.5C110.2 674.4 110.7 672.7 111.2 671.4C111.6 670.2 112.3 667.1 112.7 665.9C113.1 664.7 113.6 663.5 114 662.4C114.3 661.4 114.9 659.3 115.2 658.1C115.5 656.8 116.1 654.5 116.5 653.2C116.8 651.8 117.4 649 117.7 647.7C118 646.4 118.4 644.6 118.7 643.2C118.9 641.9 119.3 638.9 119.6 637.4C119.9 635.9 120.3 633.4 120.5 631.8C120.8 630.3 121.3 627.2 121.5 625.9C121.7 624.6 121.9 623.4 122.1 622.3C122.3 621.2 122.5 618.8 122.7 617.5C122.9 616.2 123.6 613.7 123.8 612.5C124 611.2 124.3 609.2 124.4 608.1C124.6 607.1 124.9 605.8 125.1 604.8C125.2 603.8 125.4 601.9 125.7 600.5C126 599 126.6 595 127 593.7C127.4 592.4 128.3 590.9 128.9 590.6C129.5 590.3 130.7 591.1 131.4 591.5C132.1 591.9 133.2 593.5 133.9 593.5C134.6 593.4 135.7 591.9 136.4 591.1C137.1 590.3 138.2 588.1 138.9 587.6C139.6 587 141.2 587.7 142 587.1C142.8 586.4 144.4 583.6 145.2 582.5C146 581.4 147.5 579.9 148.3 578.6C149.1 577.3 150.6 573.9 151.4 572.7C152.2 571.5 153.8 570.8 154.6 569.8C155.4 568.8 157.1 565.9 157.7 565C158.3 564.2 158.9 563.8 159.3 563.5C159.7 563.1 160.3 562.7 160.9 562.6C161.5 562.4 163.2 562.2 164 562.6C164.8 562.9 166.5 564.3 167.1 565C167.7 565.7 168.3 567.3 168.7 567.9C169.1 568.5 169.8 568.9 170.3 569.8C170.8 570.8 172.1 573.4 172.8 575C173.5 576.5 174.8 579.8 175.3 581.2C175.8 582.6 176.4 584 176.9 585.2C177.3 586.3 178 588.7 178.4 590C178.8 591.4 179.5 594.2 179.9 595.3C180.4 596.4 181 597.4 181.5 598.4C182 599.4 182.9 601.9 183.4 602.9C183.9 603.9 184.8 605 185.3 605.9C185.8 606.8 186.7 608.6 187.2 609.7C187.7 610.8 188.6 613.4 189.1 614.3C189.6 615.3 190.4 616.1 190.8 616.8C191.3 617.5 192.1 618.9 192.6 619.5C193.1 620.2 193.8 621.1 194.3 621.7C194.7 622.4 195.5 623.9 195.9 624.6C196.4 625.2 197.2 626.2 197.6 626.5C198 626.9 198.8 627 199.3 627.4C199.7 627.7 200.5 628.8 200.9 629.4C201.4 630 202.2 631.8 202.6 632.2C203 632.6 203.8 632.2 204.3 632.5C204.7 632.8 205.5 634 205.9 634.5C206.4 634.9 207.2 635.3 207.6 635.7C208 636.1 208.8 637 209.3 637.3C209.7 637.6 210.5 637.8 210.9 638.1C211.4 638.4 212.2 639.1 212.6 639.4C213 639.7 213.8 640.1 214.3 640.3C214.8 640.5 215.5 640.7 216 641C216.5 641.3 217.3 642 217.7 642.2C218.1 642.5 218.9 642.6 219.4 642.9C219.8 643.3 220.6 644.7 221 644.9C221.5 645.2 222.3 644.7 222.7 644.7C223.1 644.7 223.9 644.7 224.4 645C224.8 645.3 225.6 646.7 226 646.8C226.5 646.9 227.3 646 227.7 646C228.1 646.1 228.9 647.2 229.4 647.2C229.8 647.2 230.6 646.1 231 646.1C231.5 646 232.3 646.8 232.7 646.7C233.1 646.7 233.9 645.9 234.4 645.9C234.8 645.8 235.6 646.3 236 646.3C236.5 646.2 237.2 645.7 237.7 645.5C238.2 645.2 239.3 644.8 239.9 644.6C240.5 644.3 241.6 644.2 242.1 643.8C242.6 643.4 243.3 642.4 243.7 641.8C244.1 641.1 244.7 640 245.3 638.8C245.9 637.6 247.6 634.7 248.4 632.9C249.2 631 250.8 627.2 251.5 625.1C252.2 623 253.5 618.7 254 617.1C254.5 615.5 254.9 614.4 255.2 613.2C255.6 611.9 256.2 609 256.5 607.7C256.8 606.5 257.1 605.1 257.3 603.9C257.6 602.7 257.9 600 258.2 598.8C258.4 597.7 258.7 596.4 259 595.2C259.3 593.9 260 590.9 260.3 589.4C260.6 587.9 261.3 585.6 261.6 584.1C261.9 582.6 262.5 579.6 262.9 578.2C263.2 576.8 263.8 574.8 264.1 573.6C264.4 572.3 264.9 570.3 265.2 569C265.5 567.6 266 564.8 266.3 563.5C266.6 562.2 267.1 560.6 267.4 559.4C267.7 558.3 268.2 556.1 268.5 554.9C268.8 553.6 269.3 551.4 269.5 550.3C269.8 549.1 270.3 547.5 270.6 546.5C270.8 545.4 271.3 543.5 271.6 542.3C271.8 541.1 272.2 539.2 272.6 537.6C273 535.9 274.1 531.5 274.5 530.1C274.9 528.6 275.2 527.8 275.4 526.6C275.7 525.5 275.9 522.8 276.4 521.3C276.9 519.7 278.2 516.7 278.9 515.2C279.6 513.7 280.7 511.2 281.4 510.3C282.1 509.4 283.2 508.5 283.9 508.3C284.6 508 285.7 508.2 286.4 508.5C287.1 508.8 288.2 510.2 288.9 510.2C289.6 510.3 290.9 509 291.5 509C292.1 509.1 292.8 510 293.3 510.8C293.8 511.5 294.6 513.4 295.2 514.7C295.8 516 297 518.8 297.7 520.5C298.4 522.1 299.5 525.7 300.2 527.1C300.9 528.6 302.1 530.7 302.7 531.6C303.3 532.4 303.9 532.5 304.5 533.7C305.1 534.9 306.5 539 307 540.7C307.5 542.3 308.1 544.7 308.6 546.3C309 547.8 309.7 550.6 310.1 552C310.5 553.4 311 555.5 311.4 556.9C311.7 558.4 312.3 561.6 312.6 563C312.9 564.4 313.5 566.1 313.9 567.5C314.2 568.8 314.8 571.8 315.1 573.3C315.4 574.9 316 577.5 316.4 578.9C316.7 580.2 317.3 582.1 317.6 583.6C317.9 585.1 318.5 588.7 318.9 590.2C319.2 591.7 319.7 593.6 320.1 594.7C320.5 595.9 321.3 597.7 321.7 599C322.1 600.3 322.9 603.1 323.3 604.3C323.7 605.5 324.4 607 324.9 608.1C325.3 609.2 325.9 611.7 326.4 612.8C326.9 614 327.8 615.9 328.3 616.8C328.8 617.7 329.7 618.8 330.2 619.6C330.7 620.5 331.5 622.4 332 623.1C332.5 623.8 333.3 624.3 333.8 624.8C334.3 625.2 335 626.2 335.5 626.7C335.9 627.1 336.7 627.7 337.1 628.2C337.6 628.7 338.4 629.9 338.8 630.5C339.2 631 340 631.8 340.5 632.2C341 632.5 341.7 632.9 342.2 633.2C342.7 633.5 343.5 634.3 343.9 634.6C344.3 634.9 345.1 635.4 345.6 635.7C346 636 346.8 636.6 347.2 636.7C347.7 636.9 348.5 636.8 348.9 637.1C349.3 637.3 350.1 637.9 350.6 638.4C351 638.9 351.8 640.1 352.2 640.6C352.7 641 353.4 641.3 353.9 641.7C354.4 642.1 355.4 643.3 356 643.8C356.6 644.3 357.5 645 358.1 645.5C358.7 645.9 359.7 646.8 360.2 647C360.7 647.1 361.4 646.8 361.9 646.8C362.3 646.9 363.1 647 363.5 647.2C364 647.3 364.8 647.8 365.2 648C365.6 648.2 366.4 648.6 366.9 648.8C367.3 649 368.1 649.3 368.5 649.5C369 649.6 369.7 650 370.2 650.1C370.7 650.1 371.6 649.9 372.1 650C372.5 650.1 373.4 650.9 373.9 650.9C374.4 651 375.3 650.3 375.8 650.3C376.2 650.3 377.1 650.6 377.6 650.7C378.1 650.9 379 651.2 379.5 651.2C380 651.2 380.9 651 381.4 650.9C381.9 650.7 382.8 650.1 383.3 649.9C383.8 649.7 384.7 649.6 385.2 649.6C385.7 649.6 386.6 650.2 387.1 650C387.6 649.9 388.4 648.7 388.9 648.4C389.4 648.2 390.3 648.2 390.8 648.2C391.3 648.2 392.2 648.3 392.7 648.3C393.2 648.4 394.1 648.3 394.6 648.2C395.1 648.1 395.9 647.6 396.4 647.5C396.9 647.4 397.8 647.2 398.3 647.2C398.8 647.1 399.7 647.2 400.2 647.3C400.7 647.3 401.6 647.9 402.1 647.9C402.6 647.8 403.4 647.2 403.9 647.1C404.4 647.1 405.3 647.7 405.8 647.7C406.3 647.7 407.2 647.2 407.7 647.1C408.2 647.1 409.1 647.4 409.6 647.2C410.1 647 411 645.8 411.5 645.6C412 645.3 412.9 645.6 413.4 645.6C413.9 645.5 414.8 645.2 415.3 645.1C415.8 645 416.5 644.9 417 644.7C417.4 644.5 418.2 643.8 418.6 643.5C419.1 643.1 419.8 642.1 420.3 642C420.8 641.9 421.7 642.7 422.1 642.6C422.6 642.6 423.5 641.8 424 641.8C424.5 641.8 425.4 642.4 425.9 642.6C426.4 642.7 427.3 642.7 427.8 642.9C428.3 643.1 429 643.8 429.5 643.9C429.9 644 430.7 643.5 431.1 643.4C431.6 643.4 432.3 643.4 432.8 643.3C433.3 643.3 434.3 643 434.9 643C435.5 643 436.4 643.5 437 643.6C437.6 643.7 438.8 643.7 439.1 643.7" stroke="#0a36e0" stroke-width="2.9" fill="none" stroke-linejoin="round"/>
</g>
<path d="M131.8 508.1V672.4M161.8 478V648" stroke="#4a4a4a" stroke-width="1.7" stroke-dasharray="2.8 2.6" fill="none"/>
<path d="M118.4 731v-6M118.4 421.8v6M182.6 731v-6M182.6 421.8v6M246.7 731v-6M246.7 421.8v6M310.8 731v-6M310.8 421.8v6M375 731v-6M375 421.8v6M86.4 731v-3.2M86.4 421.8v3.2M150.5 731v-3.2M150.5 421.8v3.2M214.6 731v-3.2M214.6 421.8v3.2M278.8 731v-3.2M278.8 421.8v3.2M342.9 731v-3.2M342.9 421.8v3.2M407 731v-3.2M407 421.8v3.2M54.3 698.4h6M439.1 698.4h-6M54.3 665.9h6M439.1 665.9h-6M54.3 633.3h6M439.1 633.3h-6M54.3 600.8h6M439.1 600.8h-6M54.3 568.2h6M439.1 568.2h-6M54.3 535.6h6M439.1 535.6h-6M54.3 503.1h6M439.1 503.1h-6M54.3 470.5h6M439.1 470.5h-6M54.3 438h6M439.1 438h-6M54.3 714.7h3.2M439.1 714.7h-3.2M54.3 682.2h3.2M439.1 682.2h-3.2M54.3 649.6h3.2M439.1 649.6h-3.2M54.3 617h3.2M439.1 617h-3.2M54.3 584.5h3.2M439.1 584.5h-3.2M54.3 551.9h3.2M439.1 551.9h-3.2M54.3 519.4h3.2M439.1 519.4h-3.2M54.3 486.8h3.2M439.1 486.8h-3.2M54.3 454.2h3.2M439.1 454.2h-3.2" stroke="#333333" stroke-width="1.4" fill="none"/>
<rect x="54.3" y="421.8" width="384.8" height="309.2" fill="none" stroke="#333333" stroke-width="1.5"/>
<text x="54.3" y="748" font-size="13.2" text-anchor="middle" fill="#1c1c1c" stroke="#1c1c1c" stroke-width="0.15">635</text>
<text x="118.4" y="748" font-size="13.2" text-anchor="middle" fill="#1c1c1c" stroke="#1c1c1c" stroke-width="0.15">640</text>
<text x="182.6" y="748" font-size="13.2" text-anchor="middle" fill="#1c1c1c" stroke="#1c1c1c" stroke-width="0.15">645</text>
<text x="246.7" y="748" font-size="13.2" text-anchor="middle" fill="#1c1c1c" stroke="#1c1c1c" stroke-width="0.15">650</text>
<text x="310.8" y="748" font-size="13.2" text-anchor="middle" fill="#1c1c1c" stroke="#1c1c1c" stroke-width="0.15">655</text>
<text x="375" y="748" font-size="13.2" text-anchor="middle" fill="#1c1c1c" stroke="#1c1c1c" stroke-width="0.15">660</text>
<text x="439.1" y="748" font-size="13.2" text-anchor="middle" fill="#1c1c1c" stroke="#1c1c1c" stroke-width="0.15">665</text>
<text x="247" y="772.6" font-size="15.8" text-anchor="middle" textLength="82.8" lengthAdjust="spacingAndGlyphs" fill="#1c1c1c" stroke="#1c1c1c" stroke-width="0.15">Energy / eV</text>
<text transform="translate(40.7 576.2) rotate(-90)" font-size="15.3" text-anchor="middle" textLength="206" lengthAdjust="spacingAndGlyphs" fill="#1c1c1c" stroke="#1c1c1c" stroke-width="0.15">Normalized Absorption / a. u.</text>
<text x="12.3" y="418.8" font-size="27" textLength="32" lengthAdjust="spacingAndGlyphs" fill="#1c1c1c" stroke="#1c1c1c" stroke-width="0.15">(b)</text>
<text x="152.2" y="468.2" font-size="18.8" fill="#1c1c1c" stroke="#1c1c1c" stroke-width="0.15">Mn<tspan font-size="12.8" dy="-8">4+</tspan></text>
<text x="111.2" y="500.3" font-size="18.8" fill="#1c1c1c" stroke="#1c1c1c" stroke-width="0.15">Mn<tspan font-size="12.8" dy="-8">3+</tspan></text>
<text x="314.8" y="453.7" font-size="22" textLength="107.9" lengthAdjust="spacingAndGlyphs" fill="#1c1c1c" stroke="#1c1c1c" stroke-width="0.15">Mn L-edge</text>
<text x="297.3" y="708.1" font-size="19.8" textLength="84" lengthAdjust="spacingAndGlyphs" fill="#1c1c1c" stroke="#1c1c1c" stroke-width="0.15">Li<tspan font-size="13.3" dy="4.8">2</tspan><tspan dy="-4.8">MnO</tspan><tspan font-size="13.3" dy="4.8">2</tspan><tspan dy="-4.8">F</tspan></text>
<path d="M310.3 471.2H340.6" stroke="#1f1f7a" stroke-width="1.5"/>
<text x="344.9" y="476.3" font-size="14.3" textLength="79" lengthAdjust="spacingAndGlyphs" fill="#1c1c1c" stroke="#1c1c1c" stroke-width="0.15">As-prepared</text>
<path d="M310.3 489.4H340.6" stroke="#b9c6f5" stroke-width="1.4"/>
<text x="344.9" y="494.3" font-size="14.3" fill="#1c1c1c" stroke="#1c1c1c" stroke-width="0.15">4.0 V</text>
<path d="M310.3 507.4H340.6" stroke="#4b6fe0" stroke-width="1.4"/>
<text x="344.9" y="512.4" font-size="14.3" fill="#1c1c1c" stroke="#1c1c1c" stroke-width="0.15">4.4 V</text>
<path d="M310.3 525.2H340.6" stroke="#0a36e0" stroke-width="2.8"/>
<text x="344.9" y="530" font-size="14.3" fill="#1c1c1c" stroke="#1c1c1c" stroke-width="0.15">4.8 V</text>
<g clip-path="url(#cD)">
<path d="M473.8 695.3C474.2 695.3 475.8 695 476.7 694.9C477.6 694.8 478.7 694.7 479.6 694.6C480.5 694.5 481.7 694.3 482.5 694.2C483.4 694 484.3 693.7 485.1 693.5C485.8 693.3 486.8 693.1 487.6 693C488.3 693 489.3 693 490.1 692.9C490.8 692.8 491.8 692.5 492.6 692.3C493.3 692.1 494.3 691.8 495.1 691.6C495.8 691.4 496.8 691.5 497.6 691.2C498.4 690.8 499.4 690 500.2 689.5C501 689.1 501.9 688.8 502.9 687.9C503.8 687 505.8 685 506.7 683.4C507.7 681.7 508.6 679.2 509.4 676.9C510.2 674.6 511.3 670.9 512 668C512.7 665.1 513.5 660.3 513.9 657.8C514.3 655.4 514.6 653.5 514.9 651.6C515.2 649.6 515.6 647.1 515.9 645.1C516.2 643.1 516.6 640.3 516.9 638.3C517.2 636.2 517.6 633.5 517.9 631.5C518.2 629.5 518.5 627.1 518.8 625.2C519.1 623.3 519.3 621.1 519.7 618.8C520 616.5 520.7 612.3 521 610C521.3 607.7 521.5 605.4 521.7 603.5C521.8 601.5 522.1 598.8 522.3 596.8C522.5 594.8 522.7 592.2 522.9 590.2C523.1 588.3 523.3 585.8 523.5 583.9C523.7 582 524 579.4 524.1 577.4C524.3 575.5 524.6 572.7 524.8 570.7C524.9 568.7 525.2 566.1 525.4 564.1C525.6 562.1 525.8 559.5 526 557.5C526.2 555.6 526.4 553 526.6 551C526.8 549.1 527 546.6 527.2 544.6C527.4 542.7 527.6 540.1 527.8 537.9C528.1 535.7 528.5 532.4 528.8 529.9C529.1 527.4 529.5 523.9 529.8 521.4C530.2 518.9 530.6 515.7 530.9 513.3C531.2 510.9 531.6 507.6 532 505.2C532.3 502.9 532.9 499.9 533.2 497.7C533.6 495.4 533.9 492.7 534.5 490.3C535.1 487.9 536.2 483.7 537 481.5C537.8 479.4 538.8 477 539.5 475.9C540.3 474.8 541.3 474.1 542 474.2C542.8 474.2 543.8 474.9 544.5 476.2C545.3 477.5 546.2 480.4 547 482.7C547.9 485 549.2 488.6 550.2 491.4C551.1 494.3 552.3 498.4 553.3 501.5C554.3 504.5 556 508.9 557 511.9C557.9 515 558.9 519.6 559.6 521.6C560.2 523.6 560.5 523.4 561.3 525.2C562.1 527.1 563.9 531.3 565.1 533.7C566.2 536.1 567.7 539.5 568.8 541.5C570 543.4 571.5 546.2 572.6 547C573.7 547.7 575.3 546.3 576.4 546.4C577.4 546.5 578.5 546.9 579.5 547.8C580.4 548.8 581.8 551.7 582.6 552.9C583.5 554.1 584.4 555 585.1 555.9C585.9 556.8 586.7 557.2 587.6 558.8C588.6 560.4 590.2 564 591.4 566.6C592.6 569.3 594.4 573.3 595.7 576.3C597 579.2 598.9 583.4 600.1 586.3C601.3 589.1 602.7 592.8 603.8 595.2C605 597.7 606.7 601 607.6 602.6C608.5 604.1 609.3 604.7 610.1 605.7C610.9 606.7 611.9 608.1 612.6 609.1C613.4 610.1 614.4 611.3 615.1 612.2C615.9 613.1 616.9 614.3 617.6 615.1C618.4 615.9 619.4 616.7 620.1 617.3C620.9 618 621.9 619 622.6 619.5C623.4 620 624.4 620.2 625.2 620.5C625.9 620.8 626.9 621.4 627.7 621.6C628.4 621.8 629.4 621.8 630.2 621.8C630.9 621.7 631.7 621.6 632.7 621.3C633.6 620.9 635.3 620.4 636.4 619.5C637.6 618.5 639.3 616.4 640.2 615.1C641.1 613.7 642 611.9 642.7 610.6C643.5 609.3 644.5 607.8 645.2 606.4C646 605 647 603 647.7 601.5C648.5 600 649.3 598.4 650.2 596.5C651.2 594.6 652.8 591.2 653.9 589C655 586.7 656.7 583.9 657.6 581.6C658.5 579.3 659.3 576.1 660.1 573.8C660.9 571.5 661.9 568.6 662.6 566.4C663.4 564.2 664.4 561.4 665.1 559.1C665.9 556.8 666.9 553.4 667.6 551.2C668.4 549 669.4 546.4 670.1 544.4C670.9 542.4 671.9 539.4 672.6 537.6C673.4 535.8 674.4 534 675.2 532.5C675.9 531 676.8 528.9 677.7 527.6C678.5 526.2 679.9 524.8 680.8 523.6C681.7 522.5 683.1 520.7 683.9 519.9C684.8 519.2 685.7 519.1 686.4 518.5C687.2 518 688.2 517.1 688.9 516.5C689.7 516 690.7 515.7 691.5 515.2C692.2 514.7 693.1 513.7 693.9 513.3C694.8 512.8 696.1 512.6 697.1 512.3C698 511.9 699.4 511.2 700.2 510.8C701.1 510.4 702 510 702.7 509.6C703.5 509.2 704.5 508.6 705.2 508.2C706 507.8 707 507.3 707.7 507C708.5 506.7 709.5 506.5 710.2 506.2C711 505.9 712 505.3 712.7 504.9C713.5 504.6 714.5 504.2 715.3 503.9C716 503.5 717 502.9 717.8 502.5C718.5 502 719.5 501.4 720.3 500.8C721 500.3 722 499.3 722.8 498.8C723.5 498.3 724.5 498 725.3 497.5C726 497 727 496.2 727.8 495.7C728.5 495.1 729.5 494.5 730.3 493.9C731.1 493.4 732.1 492.5 732.8 491.9C733.6 491.4 734.6 490.7 735.3 490.2C736.1 489.6 736.9 489.4 737.8 488.5C738.7 487.7 740.3 485.6 741.4 484.5C742.5 483.3 744.1 481.4 745 480.6C745.9 479.8 746.8 479.5 747.5 479.1C748.3 478.6 749.3 477.9 750 477.5C750.8 477.1 751.8 476.6 752.5 476.3C753.3 476 754.3 475.6 755.1 475.3C755.8 475 756.8 474.6 757.6 474.3C758.3 474.1 759.3 473.7 760.1 473.7C760.8 473.8 761.8 474.3 762.6 474.5C763.3 474.7 764.2 474.9 765.1 475.1C765.9 475.2 767.3 475.4 768.2 475.5C769.2 475.6 770.4 475.5 771.4 475.6C772.3 475.8 773.5 476.1 774.5 476.3C775.4 476.5 776.8 476.9 777.6 477.2C778.5 477.4 779.4 477.7 780.1 477.9C780.9 478.2 781.9 478.5 782.6 479C783.4 479.4 784.4 480.2 785.2 480.7C785.9 481.2 786.9 481.8 787.7 482.5C788.4 483.1 789.4 484.1 790.2 484.8C790.9 485.5 791.9 486.4 792.7 487.1C793.4 487.8 794.4 488.7 795.2 489.3C795.9 490 796.9 490.9 797.7 491.4C798.4 492 799.4 492.7 800.2 493.3C801 493.9 802 494.6 802.7 495.2C803.5 495.8 804.5 496.5 805.2 497C806 497.6 807 498.4 807.7 499C808.5 499.5 809.5 500.4 810.2 501C811 501.5 812 502 812.7 502.6C813.5 503.1 814.5 504 815.3 504.6C816 505.2 817 506.1 817.8 506.6C818.5 507.2 819.5 508 820.3 508.5C821 509 822 509.6 822.8 510.1C823.5 510.6 824.5 511.5 825.3 512C826 512.5 827 513.1 827.8 513.5C828.5 513.9 829.5 514.4 830.3 514.8C831.1 515.2 832.1 515.9 832.8 516.4C833.6 516.9 834.6 517.7 835.3 518.3C836.1 518.8 837.1 519.5 837.8 520.1C838.6 520.7 839.6 521.5 840.3 522C841.1 522.5 842.1 523 842.8 523.4C843.6 523.8 844.6 524.4 845.4 524.8C846.1 525.2 846.9 525.3 847.9 525.8C848.9 526.2 850.9 527.1 852 527.6C853.1 528.1 854.3 528.7 855.2 529C856.2 529.4 858 529.9 858.5 530" stroke="#b9c6f5" stroke-width="1.6" fill="none" stroke-linejoin="round"/>
<path d="M473.8 695.3C474.1 695.3 475.3 695.3 476 695.2C476.6 695.1 477.5 694.8 478.2 694.6C478.8 694.4 479.7 694.2 480.3 694.1C481 694 481.8 694.2 482.5 694C483.2 693.9 484.3 693.1 485.1 693C485.8 692.8 486.8 693.1 487.6 693C488.3 692.9 489.3 692.7 490.1 692.5C490.8 692.3 491.8 691.7 492.6 691.5C493.3 691.4 494.3 691.5 495.1 691.4C495.8 691.2 496.8 690.8 497.6 690.5C498.4 690.1 499.4 689.5 500.2 689.1C500.9 688.6 501.8 688.3 502.7 687.4C503.7 686.5 505.5 684.6 506.5 682.9C507.5 681.3 508.4 678.8 509.1 676.6C509.9 674.3 511.1 669.9 511.6 667.9C512.2 665.9 512.3 664.7 512.6 663.2C512.9 661.7 513.2 659.8 513.5 658.1C513.8 656.4 514.2 653.6 514.5 651.8C514.7 649.9 515.1 647.5 515.4 645.5C515.7 643.4 516.1 640.1 516.4 638C516.7 636 517.1 633.8 517.4 631.8C517.7 629.8 518 626.8 518.2 624.8C518.5 622.8 518.7 620.6 519 618.4C519.3 616.2 520 612 520.3 610C520.6 608 520.6 606.7 520.8 605.1C520.9 603.5 521.1 601.1 521.3 599.5C521.5 598 521.7 596.3 521.8 594.7C522 593.2 522.2 590.7 522.3 589.2C522.5 587.7 522.7 586.3 522.8 584.7C523 583.2 523.2 580.7 523.3 579.1C523.5 577.5 523.7 575.5 523.8 574C524 572.4 524.2 570.3 524.3 568.9C524.5 567.4 524.7 565.5 524.8 564.1C525 562.6 525.2 560.6 525.3 559C525.5 557.4 525.7 555 525.8 553.4C526 551.8 526.2 549.7 526.3 548.2C526.5 546.7 526.7 544.8 526.8 543.2C527 541.6 527.2 539.1 527.3 537.5C527.5 535.9 527.8 533.9 528 532.4C528.2 530.9 528.4 528.9 528.6 527.3C528.8 525.8 529 523.6 529.2 521.8C529.4 520 529.7 517.3 529.8 515.6C530 514 530.3 512.6 530.5 511C530.7 509.4 530.9 506.7 531.1 505.1C531.3 503.6 531.5 502.2 531.7 500.7C531.9 499.2 532.2 496.7 532.4 495.1C532.5 493.4 532.8 491.6 533 489.9C533.2 488.2 533.6 485.5 533.9 483.6C534.2 481.8 534.6 479.2 534.9 477.4C535.1 475.6 535.5 473.2 535.8 471.6C536.1 470 536.3 468.4 536.7 466.7C537.2 465 538.1 461.6 538.6 460.3C539.2 458.9 539.9 458.1 540.4 457.7C540.9 457.2 541.6 457.1 542.1 457.4C542.7 457.6 543.4 458.4 544 459.4C544.7 460.5 545.8 462.4 546.5 464.4C547.3 466.3 548.5 470.3 549 472.2C549.6 474.2 549.9 475.9 550.3 477.5C550.7 479.1 551.2 481.3 551.5 482.8C551.9 484.3 552.4 486.2 552.8 487.6C553.2 489.1 553.7 490.8 554.1 492.3C554.4 493.8 554.9 496.1 555.3 497.7C555.7 499.4 556.2 501.6 556.6 503.2C556.9 504.9 557.3 507.1 557.7 508.7C558 510.2 558.4 512.5 558.8 513.4C559.2 514.4 559.6 513.3 560.2 514.8C560.8 516.4 561.6 521.4 562.6 523.7C563.5 525.9 565.2 528 566.3 529.9C567.5 531.7 569 534.4 570.1 535.9C571.2 537.4 572.7 539.1 573.8 540.2C575 541.2 576.5 542.1 577.6 543.1C578.7 544 580.2 545 581.4 546.4C582.5 547.9 584 550.8 585.1 552.9C586.3 555 587.8 558 588.9 560.5C590 563.1 591.6 567.1 592.7 569.9C593.7 572.8 595.2 577.3 596 579.6C596.9 582 597.5 583.5 598.1 585.4C598.7 587.2 599.5 590.1 600.1 591.8C600.7 593.5 601.4 595.1 601.9 596.7C602.5 598.4 603 600.7 603.8 603C604.7 605.4 606.5 610 607.6 612.3C608.7 614.6 610.2 616.5 611.4 618.4C612.5 620.3 614 623.3 615.1 624.9C616.2 626.4 617.8 628 618.9 629C620 630 621.7 630.8 622.6 631.4C623.6 632 624.2 633 625.2 633.1C626.1 633.1 627.8 632.4 628.9 632C630 631.5 631.5 631.1 632.7 630.1C633.8 629.1 635.5 626.6 636.4 625.4C637.4 624.2 638.2 623.1 638.9 622C639.7 620.9 640.7 619.1 641.5 618C642.2 616.8 643.2 615.7 644 614.5C644.7 613.2 645.7 610.9 646.5 609.5C647.2 608.1 648.2 606.5 649 605.2C649.7 603.9 650.7 602.3 651.5 600.9C652.2 599.5 653.2 597.5 654 596.1C654.8 594.6 655.8 592.4 656.5 591C657.3 589.7 658.3 588.1 659 586.8C659.8 585.6 660.8 583.9 661.5 582.5C662.2 581.1 663.1 579 663.8 577.5C664.5 575.9 665.4 573.9 666.1 572.3C666.8 570.7 667.8 568.7 668.6 566.9C669.3 565.1 670.3 562.3 671 560.4C671.7 558.4 672.7 555.8 673.5 554.1C674.2 552.4 675.2 550.4 675.9 548.8C676.6 547.3 677.5 545.3 678.2 543.8C678.8 542.3 679.7 540.2 680.4 538.7C681.1 537.2 682.1 535.2 682.8 533.8C683.5 532.5 684.5 530.7 685.2 529.8C685.9 529 686.8 528.8 687.5 528.2C688.2 527.6 689.1 526.6 689.8 526.1C690.5 525.5 691.4 524.9 692.1 524.4C692.7 524 693.5 523.4 694.1 522.9C694.7 522.3 695.5 521.4 696.2 520.9C696.8 520.4 697.6 519.9 698.2 519.5C698.8 519 699.6 518.5 700.2 518.1C700.9 517.7 702 517.5 702.7 517C703.5 516.5 704.5 515.4 705.3 514.9C706 514.4 707 514 707.8 513.7C708.5 513.3 709.5 512.6 710.3 512.3C711 512 712 512.1 712.8 511.8C713.5 511.5 714.6 510.4 715.3 510.2C716 509.9 716.7 510.2 717.4 509.9C718 509.6 718.8 508.7 719.4 508.3C720.1 507.9 720.9 507.6 721.5 507.2C722.1 506.8 723 506 723.6 505.7C724.2 505.3 725.1 505 725.7 504.8C726.3 504.5 727.2 504.2 727.8 504C728.4 503.8 729.3 503.8 729.9 503.5C730.5 503.3 731.3 502.7 732 502.4C732.6 502 733.4 501.4 734.1 501.3C734.7 501.1 735.5 501.4 736.2 501.2C736.8 501 737.6 500.4 738.2 500.1C738.9 499.9 739.6 499.8 740.3 499.3C741 498.7 742.1 497.3 742.8 496.6C743.6 495.9 744.4 495.1 745.4 494.4C746.3 493.6 748.1 492.5 749.1 491.6C750.1 490.7 751.2 489.3 752.1 488.6C753 487.8 754.2 487.3 755.1 486.7C755.9 486.1 756.8 485.2 757.6 484.5C758.3 483.7 759.3 482.4 760.1 481.9C760.8 481.3 761.8 481.1 762.6 480.7C763.3 480.3 764.4 479.6 765.1 479.3C765.8 479 766.5 478.8 767.2 478.6C767.8 478.4 768.6 478.2 769.3 477.9C769.9 477.6 770.7 476.9 771.4 476.7C772 476.5 772.8 476.3 773.4 476.2C774.1 476.2 774.9 476.3 775.5 476.3C776.2 476.2 777 475.9 777.6 475.8C778.3 475.7 779.1 475.7 779.7 475.8C780.3 475.9 781.2 476.6 781.8 476.6C782.4 476.7 783.3 475.9 783.9 476.1C784.5 476.3 785.4 477.5 786 477.9C786.6 478.4 787.5 479 788.1 479.3C788.7 479.6 789.5 479.4 790.2 479.8C790.8 480.1 791.6 481.4 792.3 481.8C792.9 482.2 793.7 482.3 794.3 482.5C795 482.8 795.8 483.2 796.4 483.6C797.1 484 797.9 484.8 798.5 485.3C799.2 485.7 800 486.2 800.6 486.8C801.2 487.3 802.1 488.4 802.7 488.9C803.3 489.5 804.2 489.9 804.8 490.5C805.4 491 806.3 492 806.9 492.6C807.5 493.2 808.4 493.9 809 494.3C809.6 494.6 810.4 494.7 811.1 495.2C811.7 495.6 812.5 496.6 813.2 497.2C813.8 497.7 814.6 498.3 815.3 498.8C815.9 499.4 816.7 500.1 817.3 500.7C818 501.3 818.8 502.2 819.4 502.9C820.1 503.5 820.9 504.3 821.5 505C822.2 505.7 823 507 823.6 507.7C824.2 508.4 825.1 509.1 825.7 509.7C826.3 510.3 827.2 511.1 827.8 511.7C828.4 512.4 829.3 513.3 829.9 513.9C830.5 514.6 831.3 515.6 832 516.2C832.6 516.9 833.4 517.9 834.1 518.5C834.7 519 835.5 519.1 836.2 519.6C836.8 520.1 837.6 521.1 838.2 521.5C838.9 521.9 839.7 522.1 840.3 522.5C841 522.9 841.8 523.8 842.4 524.2C843.1 524.6 843.9 525.1 844.5 525.4C845.1 525.7 845.9 525.8 846.6 526.2C847.3 526.6 848.5 527.6 849.3 528C850.1 528.5 851.3 528.7 852 528.9C852.7 529.2 853.5 529.6 854.2 529.9C854.8 530.2 855.7 530.5 856.3 530.8C857 531 858.2 531.4 858.5 531.5" stroke="#4b6fe0" stroke-width="1.4" fill="none" stroke-linejoin="round"/>
<path d="M473.8 696C474.2 695.9 475.8 695.8 476.7 695.7C477.6 695.6 478.7 695.3 479.6 695.3C480.5 695.2 481.7 695.4 482.5 695.4C483.4 695.4 484.3 695.3 485.1 695.2C485.8 695.2 486.8 694.9 487.6 694.8C488.3 694.8 489.3 694.7 490.1 694.7C490.8 694.6 491.8 694.4 492.6 694.3C493.3 694.2 494.3 694.3 495.1 694.3C495.8 694.2 496.8 694 497.6 693.8C498.3 693.7 499.3 693.4 500.1 693.3C500.9 693.1 502.3 692.8 503.2 692.6C504.2 692.4 505.5 692.2 506.4 691.8C507.2 691.3 508.1 690.1 508.9 689.6C509.6 689 510.4 689 511.4 688C512.3 687 514 684.7 515.2 682.7C516.3 680.8 518 677.3 518.9 675.1C519.9 672.8 520.7 670.6 521.4 667.8C522.2 665 523.4 659.1 523.9 656.3C524.5 653.6 524.8 651.7 525.2 649.6C525.6 647.6 526.1 644.7 526.4 642.7C526.8 640.6 527.1 638 527.4 636.1C527.7 634.3 528 631.9 528.3 630.1C528.6 628.3 529 625.9 529.3 624C529.5 622.1 529.9 619.6 530.2 617.5C530.5 615.4 531.1 612.1 531.5 610C531.8 607.9 532 605.6 532.3 603.6C532.6 601.7 532.9 598.9 533.1 596.9C533.4 594.9 533.7 592.3 534 590.3C534.2 588.4 534.6 585.8 534.8 583.8C535.1 581.9 535.4 579.4 535.7 577.4C535.9 575.4 536.3 572.6 536.5 570.6C536.8 568.5 537.1 565.9 537.4 563.9C537.6 562 538 559.7 538.2 557.7C538.5 555.8 538.8 553.1 539.1 551.1C539.3 549.1 539.7 546.3 539.9 544.4C540.2 542.5 540.4 540.6 540.8 538.1C541.2 535.7 542.1 530.9 542.6 528C543.2 525.1 544 521.3 544.5 519C545.1 516.8 545.8 514.6 546.4 513C547 511.4 547.7 509.6 548.3 508.5C548.9 507.5 549.5 506.6 550.2 506C550.8 505.4 552 504.7 552.7 504.5C553.3 504.2 553.9 503.8 554.6 504.3C555.2 504.9 556.3 507.4 557.1 508.4C557.8 509.5 558.8 511.2 559.6 511.6C560.3 512.1 561.2 510.7 562.1 511.4C563 512.1 564.8 514.8 565.7 516.3C566.6 517.8 567.5 519.9 568.2 521.4C569 522.8 570.1 524.5 570.7 526.2C571.4 527.9 571.8 530.6 572.6 532.7C573.3 534.8 574.9 538.3 575.7 540.2C576.6 542 577.6 543.4 578.2 545.1C578.9 546.8 579.5 549.5 580.1 551.2C580.8 552.9 581.7 555.2 582.6 556.5C583.6 557.8 585.3 559.1 586.4 559.9C587.5 560.6 588.9 561.2 590.2 561.3C591.4 561.4 593.2 560.7 594.5 560.7C595.9 560.6 597.7 560.5 598.9 560.8C600.2 561.1 601.6 562.1 602.7 562.6C603.8 563 605.3 563.5 606.5 563.9C607.6 564.3 609.2 564.6 610.2 565.3C611.3 565.9 612.5 567.3 613.4 568.2C614.2 569.1 615.3 570 615.9 571.3C616.4 572.5 616.6 575.2 617.1 576.5C617.7 577.8 619 578.6 619.6 580.1C620.3 581.6 620.8 584.9 621.5 586.5C622.2 588.2 623.1 590.1 624 591.4C625 592.7 626.6 594.2 627.8 595.1C628.9 596 630.4 597.2 631.5 597.2C632.7 597.3 634.2 596.9 635.3 595.5C636.4 594.1 637.8 590.6 639.1 588C640.3 585.3 642.5 581 643.8 577.7C645.1 574.5 646.7 569.1 647.6 566.4C648.4 563.6 648.9 561.4 649.4 559.3C650 557.2 650.8 554.7 651.3 552.5C651.9 550.4 652.6 547.2 653.2 545C653.8 542.8 654.5 540.1 655.1 537.8C655.6 535.5 656.4 532.1 657 529.9C657.5 527.6 658.3 524.8 658.8 522.8C659.4 520.7 659.9 518.2 660.4 516.3C660.9 514.3 661.4 512.2 662 510C662.6 507.7 663.5 504.1 664.5 501.4C665.4 498.6 667 494.3 668.2 491.7C669.4 489 671.6 485.3 672.6 483.8C673.6 482.2 674.4 482.2 675.1 481.5C675.9 480.7 676.9 479.7 677.6 478.9C678.4 478.1 679.4 476.8 680.1 475.9C680.9 475.1 681.8 474 682.6 473.1C683.5 472.3 684.6 470.8 685.8 470.4C686.9 469.9 689.1 470.5 690.2 470.3C691.2 470 691.9 469.1 692.7 468.7C693.4 468.2 694.3 467.6 695.2 467.2C696 466.8 697.4 466.2 698.3 465.9C699.3 465.6 700.5 465.5 701.5 465.2C702.4 464.9 703.7 464.4 704.6 464C705.5 463.6 706.8 462.8 707.7 462.5C708.6 462.1 709.7 462 710.5 461.8C711.4 461.7 712.5 462.1 713.4 461.3C714.3 460.6 715.7 457.8 716.5 456.9C717.4 455.9 718.1 455.3 719 455C720 454.7 721.6 455.2 722.8 454.9C723.9 454.7 725.4 454.2 726.5 453.3C727.7 452.4 729.2 449.8 730.3 448.7C731.4 447.6 732.8 446.5 734.1 445.7C735.3 444.9 737.1 443.5 738.5 443.5C739.8 443.4 741.7 444.8 742.8 445.2C744 445.7 745.3 445.9 746.3 446.4C747.3 446.9 748.5 448 749.4 448.8C750.3 449.5 751.7 450.7 752.5 451.4C753.4 452 754.3 452.6 755.1 453.1C755.8 453.7 756.8 454.5 757.6 455.2C758.3 455.9 759.3 457.1 760.1 458.1C760.8 459 761.8 460.4 762.6 461.3C763.3 462.3 764.3 463.6 765.1 464.5C765.8 465.4 766.8 466.6 767.6 467.5C768.3 468.4 769.3 469.6 770.1 470.5C770.9 471.4 771.7 472.6 772.6 473.7C773.5 474.8 775.2 476.5 776.4 477.7C777.5 478.9 779.2 481 780.1 481.9C781.1 482.8 781.9 483.2 782.6 483.7C783.4 484.2 784.4 484.6 785.2 485.2C785.9 485.7 786.9 486.9 787.7 487.6C788.4 488.3 789.4 489.1 790.2 489.7C790.9 490.3 791.9 491 792.7 491.5C793.4 492.1 794.4 492.8 795.2 493.2C795.9 493.7 796.9 494.2 797.7 494.6C798.4 495.1 799.4 495.9 800.2 496.5C801 497 802 497.6 802.7 498.1C803.5 498.6 804.5 499.4 805.2 499.8C806 500.2 807 500.6 807.7 501C808.5 501.4 809.5 502.1 810.2 502.5C811 503 812 503.8 812.7 504.2C813.5 504.6 814.5 505 815.3 505.3C816 505.7 817 506.3 817.8 506.8C818.5 507.2 819.5 508.1 820.3 508.5C821 508.8 822 508.9 822.8 509.1C823.5 509.4 824.5 510 825.3 510.3C826 510.6 827 510.8 827.8 511.1C828.5 511.3 829.5 511.6 830.3 511.8C831.1 512 832.1 512.2 832.8 512.4C833.6 512.6 834.6 512.8 835.3 513.2C836.1 513.6 837.1 514.5 837.8 515C838.6 515.5 839.5 516.2 840.3 516.7C841.2 517.2 842.5 517.7 843.5 518.2C844.4 518.7 845.7 519.5 846.6 520C847.5 520.5 848.5 521.1 849.3 521.6C850.1 522.2 851.1 523.1 852 523.5C852.9 524 854.3 524.5 855.2 524.9C856.2 525.3 858 526.3 858.5 526.5" stroke="#1f1f7a" stroke-width="1.45" fill="none" stroke-linejoin="round"/>
<path d="M473.8 694.6C474.2 694.6 475.8 694.6 476.7 694.5C477.6 694.4 478.7 694.1 479.6 693.9C480.5 693.7 481.7 693.4 482.5 693.3C483.4 693.1 484.3 693.3 485.1 693.1C485.8 693 486.8 692.4 487.6 692.3C488.3 692.1 489.3 692.1 490.1 692C490.8 691.9 491.8 691.8 492.6 691.6C493.3 691.4 494.3 690.9 495.1 690.7C495.8 690.5 496.8 690.3 497.6 690C498.3 689.7 499.3 689.2 500.1 688.7C500.9 688.3 501.7 687.9 502.6 687C503.5 686.2 505.4 684.6 506.4 683C507.3 681.4 508.1 678.5 508.9 676.2C509.6 674 510.7 670.7 511.4 667.9C512 665.1 512.8 660 513.3 657.6C513.7 655.1 513.9 653.4 514.2 651.6C514.5 649.7 514.9 647.1 515.2 645.1C515.4 643.1 515.8 640.4 516.1 638.3C516.4 636.2 516.8 633.2 517 631.2C517.3 629.2 517.6 626.8 517.8 624.9C518.1 623 518.4 621 518.7 618.8C519 616.5 519.6 612.5 519.9 610.2C520.2 607.9 520.4 605.4 520.6 603.4C520.8 601.3 521 598.7 521.2 596.7C521.4 594.8 521.6 592.3 521.8 590.3C522 588.3 522.3 585.5 522.5 583.6C522.7 581.6 522.9 579.1 523.1 577.1C523.3 575.2 523.6 572.7 523.8 570.7C524 568.8 524.2 566.1 524.4 564.2C524.6 562.2 524.9 559.6 525 557.7C525.2 555.7 525.5 552.9 525.7 550.9C525.9 548.9 526.1 546.2 526.3 544.2C526.5 542.2 526.7 539.9 527 537.7C527.2 535.5 527.6 532.1 527.9 529.6C528.2 527.2 528.6 523.8 528.8 521.3C529.1 518.9 529.5 515.9 529.8 513.4C530.1 511 530.4 507.4 530.7 505.1C531 502.7 531.4 500.1 531.7 497.9C532 495.6 532.3 492.4 532.6 490.2C532.9 488.1 533.3 485.4 533.5 483.4C533.8 481.3 534.1 479.3 534.5 476.5C534.9 473.8 535.8 467.8 536.4 465.1C536.9 462.4 537.7 460.1 538.3 458.8C538.8 457.5 539.6 456.8 540.1 456.4C540.7 456 541.5 455.8 542 456C542.6 456.3 543.2 457.3 543.9 458.4C544.6 459.4 545.7 461.3 546.4 463.2C547.2 465.1 548.2 468.3 548.9 471.1C549.7 473.9 550.7 478.6 551.4 481.6C552.2 484.7 553.2 488.5 553.9 491.5C554.7 494.5 555.7 498.9 556.4 501.5C557.2 504.1 557.9 506.4 558.8 508.7C559.7 511.1 561.4 514.8 562.6 517.3C563.7 519.8 565.2 523.3 566.3 525.4C567.5 527.5 569.1 529.8 570.1 531.2C571 532.5 571.8 533.4 572.6 534.4C573.3 535.4 574.3 537.1 575.1 537.9C575.9 538.8 576.9 539.2 577.6 539.9C578.4 540.6 579.2 541.5 580.1 542.6C581.1 543.8 582.8 545.8 583.9 547.6C585 549.5 586.5 552.4 587.6 555C588.8 557.7 590.2 562.1 591.4 565.5C592.6 568.9 594.8 574.8 595.7 577.6C596.7 580.4 597.3 582.2 597.9 584.2C598.6 586.3 599.2 588.6 600.1 591.3C601 594.1 602.7 599.1 603.8 602.3C605 605.6 606.5 610.3 607.6 612.8C608.7 615.3 610.2 617.3 611.4 619.2C612.5 621.1 614 623.8 615.1 625.5C616.2 627.1 617.8 628.9 618.9 630C620 631.1 621.7 632.3 622.6 632.8C623.6 633.4 624.2 633.6 625.2 633.6C626.1 633.6 627.8 633.1 628.9 632.7C630 632.4 631.5 632.3 632.7 631.4C633.8 630.4 635.5 627.7 636.4 626.4C637.4 625 638.2 623.6 638.9 622.5C639.7 621.4 640.7 620.2 641.5 619C642.2 617.8 643.2 615.6 644 614.3C644.7 613 645.7 611.8 646.5 610.4C647.2 609.1 648.2 606.8 649 605.5C649.7 604.2 650.7 603.1 651.5 601.7C652.2 600.3 653.2 597.8 654 596.2C654.8 594.6 655.8 592.5 656.5 591.1C657.3 589.7 658.3 588.4 659 587.1C659.8 585.8 660.4 584.7 661.5 582.6C662.6 580.5 665.3 575.3 666.4 572.9C667.5 570.4 668.1 568.3 668.9 566.4C669.6 564.6 670.6 562.1 671.4 560.2C672.1 558.4 673.1 556 673.9 554.3C674.6 552.6 675.7 550.5 676.4 549C677.2 547.4 678.2 545.3 678.9 543.9C679.7 542.4 680.7 540.5 681.4 539.1C682.2 537.8 683.2 536 683.9 534.8C684.7 533.6 685.6 532.1 686.4 531.1C687.3 530 688.6 528.7 689.6 527.7C690.5 526.6 691.9 525 692.7 524.1C693.6 523.2 694.5 522.3 695.2 521.7C696 521 697 520.4 697.7 519.7C698.5 519.1 699.5 518.1 700.2 517.6C701 517 702 516.4 702.7 516C703.5 515.5 704.5 515 705.3 514.6C706 514.2 707 513.6 707.8 513.2C708.5 512.8 709.5 512.1 710.3 511.8C711 511.5 712 511.2 712.8 510.9C713.5 510.7 714.4 510.6 715.3 510.1C716.1 509.7 717.5 508.7 718.4 508.1C719.3 507.6 720.6 507 721.5 506.5C722.5 506 723.7 505.3 724.7 504.8C725.6 504.3 726.9 503.7 727.8 503.3C728.7 502.9 730 502.5 730.9 502.2C731.9 501.9 733.1 501.3 734.1 501C735 500.7 736.3 500.4 737.2 500.1C738.1 499.7 739.5 499.3 740.3 498.7C741.2 498.1 742.1 496.9 742.8 496.2C743.6 495.4 744.4 494.8 745.4 493.9C746.3 492.9 748.1 490.8 749.1 489.9C750.1 489.1 751.2 488.7 752.1 488.1C753 487.6 754.2 487.1 755.1 486.5C755.9 485.8 756.8 484.7 757.6 484C758.3 483.2 759.1 482 760.1 481.2C761 480.5 762.9 479.3 763.8 478.9C764.8 478.6 765.6 478.9 766.3 478.9C767.1 478.9 768.1 479.1 768.8 478.9C769.6 478.8 770.6 478.2 771.4 477.8C772.1 477.3 773.1 476.5 773.9 476.2C774.6 475.9 775.6 475.9 776.4 475.7C777.1 475.4 778.1 474.8 778.9 474.5C779.6 474.3 780.6 474.1 781.4 474C782.1 473.8 783 473.4 783.9 473.6C784.8 473.7 786.5 474.3 787.7 474.8C788.8 475.4 790.3 476.7 791.4 477.1C792.6 477.6 794.1 477.1 795.2 477.8C796.3 478.5 797.8 481 798.9 481.9C800.1 482.9 801.6 483 802.7 484C803.8 485.1 805.3 487.7 806.5 488.8C807.6 489.9 809.1 490.5 810.2 491.3C811.4 492 812.9 492.6 814 493.8C815.1 494.9 816.6 497.3 817.8 498.8C818.9 500.2 820.4 502 821.5 503.4C822.7 504.8 824.3 506.7 825.3 507.8C826.2 509 827 510.1 827.8 511C828.5 511.9 829.5 512.8 830.3 513.8C831.1 514.7 832.1 516.3 832.8 517.3C833.6 518.3 834.6 519.5 835.3 520.3C836.1 521 837.1 521.7 837.8 522.4C838.6 523.1 839.6 524.1 840.3 524.7C841.1 525.2 842.1 525.7 842.8 526.2C843.6 526.6 844.5 527.1 845.4 527.6C846.2 528.1 847.7 528.8 848.7 529.3C849.7 529.8 851 530.6 852 531C853 531.5 854.3 532 855.2 532.3C856.2 532.7 858 533.3 858.5 533.5" stroke="#0a36e0" stroke-width="3.0" fill="none" stroke-linejoin="round"/>
</g>
<path d="M522.5 447.6H616.2V687.4H522.5Z" stroke="#4a4a4a" stroke-width="1.45" stroke-dasharray="3.6 2.6" fill="none"/>
<path d="M561.1 731v-6M561.1 421.8v6M648.4 731v-6M648.4 421.8v6M735.7 731v-6M735.7 421.8v6M823 731v-6M823 421.8v6M517.5 731v-3.2M517.5 421.8v3.2M604.8 731v-3.2M604.8 421.8v3.2M692.1 731v-3.2M692.1 421.8v3.2M779.4 731v-3.2M779.4 421.8v3.2M473.8 456.3h6M858.5 456.3h-6M473.8 490.7h6M858.5 490.7h-6M473.8 525.1h6M858.5 525.1h-6M473.8 559.5h6M858.5 559.5h-6M473.8 593.9h6M858.5 593.9h-6M473.8 628.3h6M858.5 628.3h-6M473.8 662.7h6M858.5 662.7h-6M473.8 697.1h6M858.5 697.1h-6M473.8 439.1h3.2M858.5 439.1h-3.2M473.8 473.5h3.2M858.5 473.5h-3.2M473.8 507.9h3.2M858.5 507.9h-3.2M473.8 542.3h3.2M858.5 542.3h-3.2M473.8 576.7h3.2M858.5 576.7h-3.2M473.8 611.1h3.2M858.5 611.1h-3.2M473.8 645.5h3.2M858.5 645.5h-3.2M473.8 679.9h3.2M858.5 679.9h-3.2M473.8 714.3h3.2M858.5 714.3h-3.2" stroke="#333333" stroke-width="1.4" fill="none"/>
<rect x="473.8" y="421.8" width="384.7" height="309.2" fill="none" stroke="#333333" stroke-width="1.5"/>
<text x="473.8" y="748" font-size="13.2" text-anchor="middle" fill="#1c1c1c" stroke="#1c1c1c" stroke-width="0.15">525</text>
<text x="561.1" y="748" font-size="13.2" text-anchor="middle" fill="#1c1c1c" stroke="#1c1c1c" stroke-width="0.15">530</text>
<text x="648.4" y="748" font-size="13.2" text-anchor="middle" fill="#1c1c1c" stroke="#1c1c1c" stroke-width="0.15">535</text>
<text x="735.7" y="748" font-size="13.2" text-anchor="middle" fill="#1c1c1c" stroke="#1c1c1c" stroke-width="0.15">540</text>
<text x="823" y="748" font-size="13.2" text-anchor="middle" fill="#1c1c1c" stroke="#1c1c1c" stroke-width="0.15">545</text>
<text x="666" y="772.6" font-size="15.8" text-anchor="middle" textLength="82.8" lengthAdjust="spacingAndGlyphs" fill="#1c1c1c" stroke="#1c1c1c" stroke-width="0.15">Energy / eV</text>
<text transform="translate(459.9 576.2) rotate(-90)" font-size="15.3" text-anchor="middle" textLength="206" lengthAdjust="spacingAndGlyphs" fill="#1c1c1c" stroke="#1c1c1c" stroke-width="0.15">Normalized Absorption / a. u.</text>
<text x="752.3" y="448.8" font-size="23" textLength="101.2" lengthAdjust="spacingAndGlyphs" fill="#1c1c1c" stroke="#1c1c1c" stroke-width="0.15">O K-edge</text>
<text x="486.3" y="718.1" font-size="19.8" textLength="84.6" lengthAdjust="spacingAndGlyphs" fill="#1c1c1c" stroke="#1c1c1c" stroke-width="0.15">Li<tspan font-size="13.3" dy="4.8">2</tspan><tspan dy="-4.8">MnO</tspan><tspan font-size="13.3" dy="4.8">2</tspan><tspan dy="-4.8">F</tspan></text>
<path d="M708.2 530.5H741.4" stroke="#1f1f7a" stroke-width="1.4"/>
<text x="746.4" y="536.2" font-size="14.6" textLength="83.8" lengthAdjust="spacingAndGlyphs" font-family='"IPAPGothic", "IPAGothic", "Liberation Sans", sans-serif' fill="#111" stroke="#111" stroke-width="0.25">As-prepared</text>
<path d="M708.2 548.2H741.4" stroke="#b9c6f5" stroke-width="1.6"/>
<text x="746.4" y="553.8" font-size="14.6" textLength="33.8" lengthAdjust="spacingAndGlyphs" font-family='"IPAPGothic", "IPAGothic", "Liberation Sans", sans-serif' fill="#111" stroke="#111" stroke-width="0.25">4.0 V</text>
<path d="M708.2 565.8H741.4" stroke="#5f78d6" stroke-width="1.7"/>
<text x="746.4" y="571.4" font-size="14.6" textLength="33.8" lengthAdjust="spacingAndGlyphs" font-family='"IPAPGothic", "IPAGothic", "Liberation Sans", sans-serif' fill="#111" stroke="#111" stroke-width="0.25">4.4 V</text>
<path d="M708.2 583.4H741.4" stroke="#0a36e0" stroke-width="3.2"/>
<text x="746.4" y="589.2" font-size="14.6" textLength="33.8" lengthAdjust="spacingAndGlyphs" font-family='"IPAPGothic", "IPAGothic", "Liberation Sans", sans-serif' fill="#111" stroke="#111" stroke-width="0.25">4.8 V</text>
<rect x="694.2" y="595.6" width="143.6" height="115.4" fill="#fff"/>
<g clip-path="url(#cI)">
<path d="M694 656.5C694.2 656 694.6 654.5 694.9 653.6C695.1 652.6 695.4 651.7 695.7 650.7C696 649.8 696.3 648.8 696.7 647.9C697 646.9 697.3 646 697.6 645C697.9 644.1 698.3 643.1 698.6 642.2C698.9 641.2 699.3 640.3 699.6 639.4C700 638.4 700.3 637.5 700.7 636.6C701.1 635.6 701.5 634.7 701.9 633.8C702.3 632.9 702.7 632 703.2 631.1C703.6 630.2 704.1 629.3 704.6 628.4C705.1 627.6 705.6 626.7 706.2 625.9C706.8 625 707.3 624.2 708 623.5C708.7 622.8 709.4 622 710.3 621.5C711.1 621 712 620.6 713 620.4C713.9 620.2 715 620.1 716 620.2C716.9 620.3 717.9 620.5 718.8 620.9C719.7 621.3 720.5 621.9 721.3 622.6C722.1 623.2 722.8 624 723.5 624.7C724.2 625.4 724.9 626.1 725.6 626.8C726.3 627.5 727.1 628.2 727.7 628.9C728.4 629.6 729.1 630.4 729.8 631.1C730.4 631.9 731 632.7 731.6 633.5C732.3 634.3 732.9 635.1 733.5 635.8C734.1 636.6 734.7 637.4 735.3 638.2C735.9 639 736.5 639.8 737.2 640.6C737.8 641.4 738.5 642.1 739.1 642.9C739.8 643.6 740.5 644.3 741.2 645.1C741.9 645.8 742.6 646.5 743.3 647.1C744.1 647.8 744.8 648.5 745.6 649.1C746.4 649.7 747.2 650.3 748.1 650.8C748.9 651.4 749.7 651.9 750.6 652.4C751.5 652.9 752.4 653.3 753.3 653.7C754.3 654.1 755.2 654.4 756.2 654.7C757.1 654.9 758.1 655.1 759.1 655.1C760.1 655.2 761.1 654.9 762.1 654.8C763.1 654.7 764.1 654.6 765.1 654.6C766.1 654.6 767.1 654.5 768.1 654.6C769.1 654.7 770 654.8 770.9 655.2C771.8 655.6 772.7 656.2 773.6 656.8C774.4 657.3 775.2 657.9 776 658.5C776.8 659.1 777.6 659.7 778.4 660.3C779.2 661 780 661.6 780.8 662.2C781.6 662.8 782.4 663.4 783.2 664C784 664.6 784.8 665.2 785.5 665.8C786.3 666.5 787.1 667.1 787.8 667.8C788.6 668.5 789.3 669.2 790 669.9C790.7 670.6 791.3 671.3 792 672.1C792.7 672.8 793.4 673.5 794.2 674.2C794.9 674.9 795.6 675.5 796.4 676.2C797.2 676.8 798 677.4 798.8 678C799.6 678.6 800.4 679.2 801.2 679.8C802 680.3 802.9 680.9 803.7 681.3C804.6 681.8 805.5 682.3 806.4 682.7C807.3 683.2 808.2 683.6 809.1 684C810 684.4 811 684.8 811.9 685.2C812.8 685.6 813.7 686 814.6 686.4C815.6 686.8 816.5 687.2 817.4 687.5C818.4 687.9 819.3 688.2 820.2 688.6C821.2 688.9 822.1 689.2 823.1 689.5C824 689.8 825 690.1 826 690.3C826.9 690.6 827.9 690.8 828.9 690.9C829.9 691.1 830.9 691.2 831.9 691.2C832.9 691.3 833.9 691.3 834.9 691.3C835.9 691.4 837.3 691.4 837.8 691.4" stroke="#c3cef7" stroke-width="1.0" fill="none" stroke-linejoin="round"/>
<path d="M694 701.6C694.2 701.2 694.9 699.8 695.3 698.9C695.7 698 696.1 697.1 696.5 696.2C697 695.3 697.4 694.3 697.8 693.4C698.2 692.5 698.5 691.6 698.9 690.7C699.3 689.7 699.7 688.8 700.1 687.9C700.4 687 700.8 686 701.2 685.1C701.5 684.2 701.9 683.2 702.2 682.3C702.5 681.3 702.9 680.4 703.2 679.5C703.6 678.5 703.9 677.6 704.2 676.6C704.5 675.7 704.8 674.7 705.2 673.8C705.5 672.8 705.8 671.9 706.1 670.9C706.4 670 706.7 669 707 668.1C707.4 667.1 707.7 666.2 708 665.3C708.4 664.3 708.7 663.4 709 662.4C709.4 661.5 709.7 660.6 710.1 659.6C710.5 658.7 710.8 657.8 711.2 656.8C711.6 655.9 711.9 655 712.3 654C712.7 653.1 713.1 652.2 713.5 651.3C713.9 650.3 714.3 649.4 714.7 648.5C715.1 647.6 715.6 646.7 716.1 645.9C716.6 645 717 644.1 717.6 643.3C718.1 642.4 718.7 641.6 719.4 640.9C720 640.1 720.7 639.3 721.4 638.7C722.2 638 723 637.4 723.8 636.9C724.7 636.4 725.6 635.9 726.6 635.6C727.5 635.3 728.5 635.2 729.5 635.1C730.5 635 731.5 634.9 732.5 635C733.5 635.1 734.5 635.3 735.4 635.6C736.3 635.9 737.1 636.6 738 637.1C738.9 637.5 739.8 637.9 740.7 638.2C741.7 638.5 742.7 638.6 743.7 638.9C744.6 639.1 745.6 639.3 746.5 639.7C747.4 640.1 748.3 640.6 749.1 641.2C749.9 641.8 750.7 642.4 751.5 643.1C752.2 643.7 753 644.4 753.8 645C754.6 645.6 755.4 646.1 756.2 646.7C757.1 647.3 757.9 647.8 758.7 648.4C759.5 649.1 760.2 649.7 761 650.4C761.7 651 762.5 651.6 763.3 652.3C764 652.9 764.8 653.6 765.5 654.3C766.3 654.9 766.9 655.7 767.7 656.4C768.4 657.1 769.1 657.8 769.9 658.4C770.7 659 771.5 659.6 772.4 660C773.3 660.5 774.2 660.8 775.2 661.2C776.1 661.5 777.1 661.7 778.1 661.9C779 662.1 780 662.2 781 662.2C782 662.3 783 662.3 784 662.3C785 662.3 786 662.3 787 662.2C788 662.2 789 662.2 790 662.2C791 662.2 792 662.2 793 662.2C794 662.2 795 662.3 796 662.4C797 662.5 798 662.7 799 662.8C800 662.9 801 663 802 663.1C803 663.2 804 663.3 805 663.4C806 663.6 807 663.7 807.9 663.9C808.9 664.1 809.9 664.3 810.9 664.6C811.8 664.9 812.8 665.2 813.7 665.6C814.6 666.1 815.4 666.6 816.2 667.2C817 667.8 817.7 668.5 818.5 669.1C819.3 669.7 820.1 670.3 820.9 670.9C821.7 671.5 822.5 672.1 823.3 672.7C824.1 673.3 824.9 674 825.6 674.7C826.4 675.3 827.2 675.9 828 676.5C828.8 677 829.7 677.5 830.6 677.9C831.5 678.4 832.5 678.7 833.4 679C834.3 679.4 835.6 679.6 836.3 679.8C837 680 837.5 680.1 837.8 680.1" stroke="#3a3a94" stroke-width="0.95" fill="none" stroke-linejoin="round"/>
<path d="M694 652.7C694.2 652.2 694.5 650.8 694.8 649.8C695.1 648.8 695.3 647.9 695.6 646.9C695.9 646 696.2 645 696.4 644C696.7 643.1 697 642.1 697.3 641.2C697.5 640.2 697.8 639.2 698.1 638.3C698.4 637.3 698.7 636.4 699.1 635.4C699.4 634.5 699.7 633.5 700.1 632.6C700.4 631.7 700.8 630.7 701.1 629.8C701.5 628.9 701.9 628 702.3 627C702.7 626.1 703.1 625.2 703.5 624.2C703.9 623.3 704.3 622.4 704.8 621.5C705.2 620.7 705.7 619.8 706.3 618.9C706.8 618.1 707.4 617.1 708.1 616.4C708.7 615.7 709.5 615.1 710.4 614.7C711.2 614.3 712.3 614 713.2 613.9C714.2 613.9 715.2 614 716.2 614.2C717.2 614.4 718.2 614.7 719.1 615.2C719.9 615.6 720.8 616.1 721.5 616.8C722.3 617.4 722.9 618.2 723.6 619C724.2 619.7 724.9 620.5 725.5 621.3C726.1 622.1 726.6 623 727.2 623.8C727.8 624.6 728.3 625.4 728.9 626.3C729.5 627.1 730 627.9 730.6 628.7C731.2 629.6 731.8 630.4 732.3 631.2C732.9 632 733.5 632.8 734.1 633.6C734.8 634.4 735.4 635.2 736 635.9C736.7 636.7 737.4 637.4 738.1 638.1C738.8 638.8 739.5 639.5 740.2 640.2C740.9 640.9 741.6 641.7 742.3 642.4C743 643.1 743.7 643.8 744.4 644.5C745.2 645.2 745.9 645.8 746.7 646.5C747.5 647.1 748.3 647.7 749.1 648.3C750 648.8 750.8 649.2 751.7 649.6C752.7 650 753.6 650.3 754.6 650.6C755.5 650.9 756.5 651.2 757.5 651.5C758.4 651.7 759.4 651.9 760.4 652.1C761.4 652.2 762.4 652.3 763.4 652.5C764.4 652.6 765.4 652.7 766.3 653C767.3 653.3 768.2 653.7 769.1 654.1C770 654.5 770.9 654.9 771.8 655.4C772.7 655.9 773.5 656.5 774.3 657.1C775.2 657.6 775.9 658.2 776.7 658.9C777.5 659.5 778.2 660.2 779 660.9C779.7 661.5 780.4 662.2 781.2 662.9C781.9 663.6 782.6 664.3 783.4 665C784.1 665.6 784.8 666.3 785.5 667C786.2 667.7 787 668.4 787.7 669.1C788.4 669.8 789.1 670.6 789.8 671.3C790.5 672 791.1 672.7 791.8 673.4C792.5 674.2 793.2 674.9 793.9 675.6C794.6 676.3 795.3 677 796 677.7C796.7 678.5 797.4 679.2 798.2 679.9C798.9 680.6 799.6 681.3 800.3 681.9C801.1 682.6 801.8 683.2 802.6 683.9C803.4 684.5 804.2 685.1 805 685.7C805.8 686.3 806.6 686.9 807.4 687.5C808.2 688 809.1 688.6 809.9 689.1C810.8 689.6 811.7 690.1 812.5 690.6C813.4 691.1 814.3 691.6 815.2 692C816.1 692.5 816.9 693 817.9 693.4C818.8 693.8 819.7 694.2 820.6 694.5C821.5 694.9 822.5 695.2 823.5 695.5C824.4 695.8 825.4 696.1 826.4 696.3C827.3 696.5 828.3 696.7 829.3 696.8C830.3 696.9 831.3 696.9 832.3 696.8C833.3 696.8 834.4 696.7 835.3 696.6C836.2 696.6 837.3 696.4 837.8 696.4" stroke="#4b6fe0" stroke-width="0.9" fill="none" stroke-linejoin="round"/>
<path d="M694 654C694.2 653.5 694.5 652 694.8 651.1C695 650.1 695.2 649.1 695.5 648.1C695.8 647.2 696 646.2 696.3 645.2C696.5 644.3 696.8 643.3 697.1 642.4C697.3 641.4 697.6 640.4 697.9 639.5C698.2 638.5 698.4 637.5 698.7 636.6C699 635.6 699.4 634.7 699.7 633.7C700 632.8 700.3 631.9 700.7 630.9C701 630 701.4 629 701.7 628.1C702.1 627.2 702.5 626.2 702.8 625.3C703.2 624.4 703.6 623.4 704 622.5C704.3 621.6 704.8 620.7 705.2 619.8C705.7 618.9 706.2 618 706.7 617.1C707.3 616.3 707.8 615.4 708.5 614.7C709.2 614 710 613.4 710.9 613.1C711.8 612.7 712.8 612.5 713.8 612.4C714.8 612.3 715.8 612.4 716.8 612.6C717.8 612.8 718.7 613.2 719.6 613.7C720.4 614.2 721.2 614.9 721.9 615.6C722.6 616.3 723.2 617.1 723.8 617.9C724.4 618.7 725 619.5 725.6 620.4C726.1 621.2 726.7 622 727.2 622.9C727.8 623.7 728.3 624.5 728.9 625.4C729.4 626.2 729.9 627.1 730.5 627.9C731.1 628.7 731.6 629.5 732.2 630.4C732.8 631.2 733.4 632 734 632.8C734.6 633.6 735.2 634.4 735.9 635.1C736.5 635.9 737.2 636.6 737.9 637.4C738.6 638.1 739.3 638.8 740.1 639.4C740.8 640 741.7 640.6 742.5 641.1C743.3 641.6 744.2 642.1 745.1 642.6C746 643.1 746.9 643.5 747.8 644C748.7 644.4 749.6 644.9 750.5 645.3C751.4 645.8 752.3 646.2 753.2 646.7C754.1 647.1 754.9 647.5 755.8 648C756.7 648.4 757.6 648.9 758.5 649.3C759.4 649.8 760.3 650.3 761.2 650.7C762.1 651.2 763 651.7 763.9 652.1C764.8 652.5 765.7 652.8 766.7 653.1C767.6 653.3 768.7 653.5 769.6 653.8C770.5 654.1 771.4 654.6 772.2 655.1C773.1 655.7 773.9 656.3 774.6 657C775.4 657.6 776.2 658.2 776.9 658.9C777.7 659.5 778.5 660.1 779.3 660.7C780.1 661.4 780.8 662 781.6 662.7C782.3 663.3 783 664 783.7 664.8C784.4 665.5 785.1 666.2 785.8 666.9C786.5 667.7 787.2 668.4 787.9 669.1C788.6 669.8 789.2 670.6 789.9 671.3C790.6 672 791.3 672.8 791.9 673.5C792.6 674.3 793.3 675 794 675.7C794.6 676.5 795.3 677.2 796 677.9C796.7 678.6 797.4 679.4 798.1 680.1C798.8 680.8 799.5 681.5 800.3 682.2C801 682.9 801.7 683.5 802.5 684.2C803.2 684.8 804 685.5 804.8 686.1C805.6 686.7 806.4 687.3 807.2 687.9C808 688.5 808.8 689 809.7 689.6C810.5 690.1 811.4 690.6 812.3 691.1C813.1 691.6 814 692.1 814.9 692.5C815.8 693 816.7 693.5 817.6 694C818.5 694.4 819.4 694.8 820.3 695.2C821.2 695.5 822.2 695.8 823.1 696.1C824.1 696.4 825.1 696.6 826.1 696.8C827 697 828 697.2 829 697.3C830 697.4 831 697.4 832 697.3C833 697.3 834 697.2 835 697C836 696.9 837.3 696.7 837.8 696.7" stroke="#1442dc" stroke-width="1.65" fill="none" stroke-linejoin="round"/>
</g>
<path d="M718.1 711v-1.8M718.1 595.6v1.8M742.1 711v-1.8M742.1 595.6v1.8M766 711v-1.8M766 595.6v1.8M789.9 711v-1.8M789.9 595.6v1.8M813.9 711v-1.8M813.9 595.6v1.8M694.2 603.2h1.8M837.8 603.2h-1.8M694.2 611.5h1.8M837.8 611.5h-1.8M694.2 619.8h1.8M837.8 619.8h-1.8M694.2 628h1.8M837.8 628h-1.8M694.2 636.3h1.8M837.8 636.3h-1.8M694.2 644.6h1.8M837.8 644.6h-1.8M694.2 652.9h1.8M837.8 652.9h-1.8M694.2 661.2h1.8M837.8 661.2h-1.8M694.2 669.4h1.8M837.8 669.4h-1.8M694.2 677.7h1.8M837.8 677.7h-1.8M694.2 686h1.8M837.8 686h-1.8M694.2 694.3h1.8M837.8 694.3h-1.8M694.2 702.6h1.8M837.8 702.6h-1.8" stroke="#777" stroke-width="1" fill="none"/>
<rect x="694.2" y="595.6" width="143.6" height="115.4" fill="none" stroke="#777" stroke-width="1.1"/>
<circle cx="756.2" cy="649.6" r="25.7" fill="none" stroke="#444" stroke-width="1.05" stroke-dasharray="2.6 1.9"/>
<text x="694.2" y="722.3" font-size="11.4" text-anchor="middle" fill="#1c1c1c" stroke="#1c1c1c" stroke-width="0.15">528</text>
<text x="742.1" y="722.3" font-size="11.4" text-anchor="middle" fill="#1c1c1c" stroke="#1c1c1c" stroke-width="0.15">530</text>
<text x="789.9" y="722.3" font-size="11.4" text-anchor="middle" fill="#1c1c1c" stroke="#1c1c1c" stroke-width="0.15">532</text>
<text x="837.8" y="722.3" font-size="11.4" text-anchor="middle" fill="#1c1c1c" stroke="#1c1c1c" stroke-width="0.15">534</text>
<text x="787.6" y="612.8" font-size="10" textLength="31.4" lengthAdjust="spacingAndGlyphs" fill="#1c1c1c">O<tspan font-size="6.5" dy="-3.5">2-</tspan><tspan dy="3.5">/O</tspan><tspan font-size="6.5" dy="-3.5">n-</tspan></text>
</svg>
</body></html>
